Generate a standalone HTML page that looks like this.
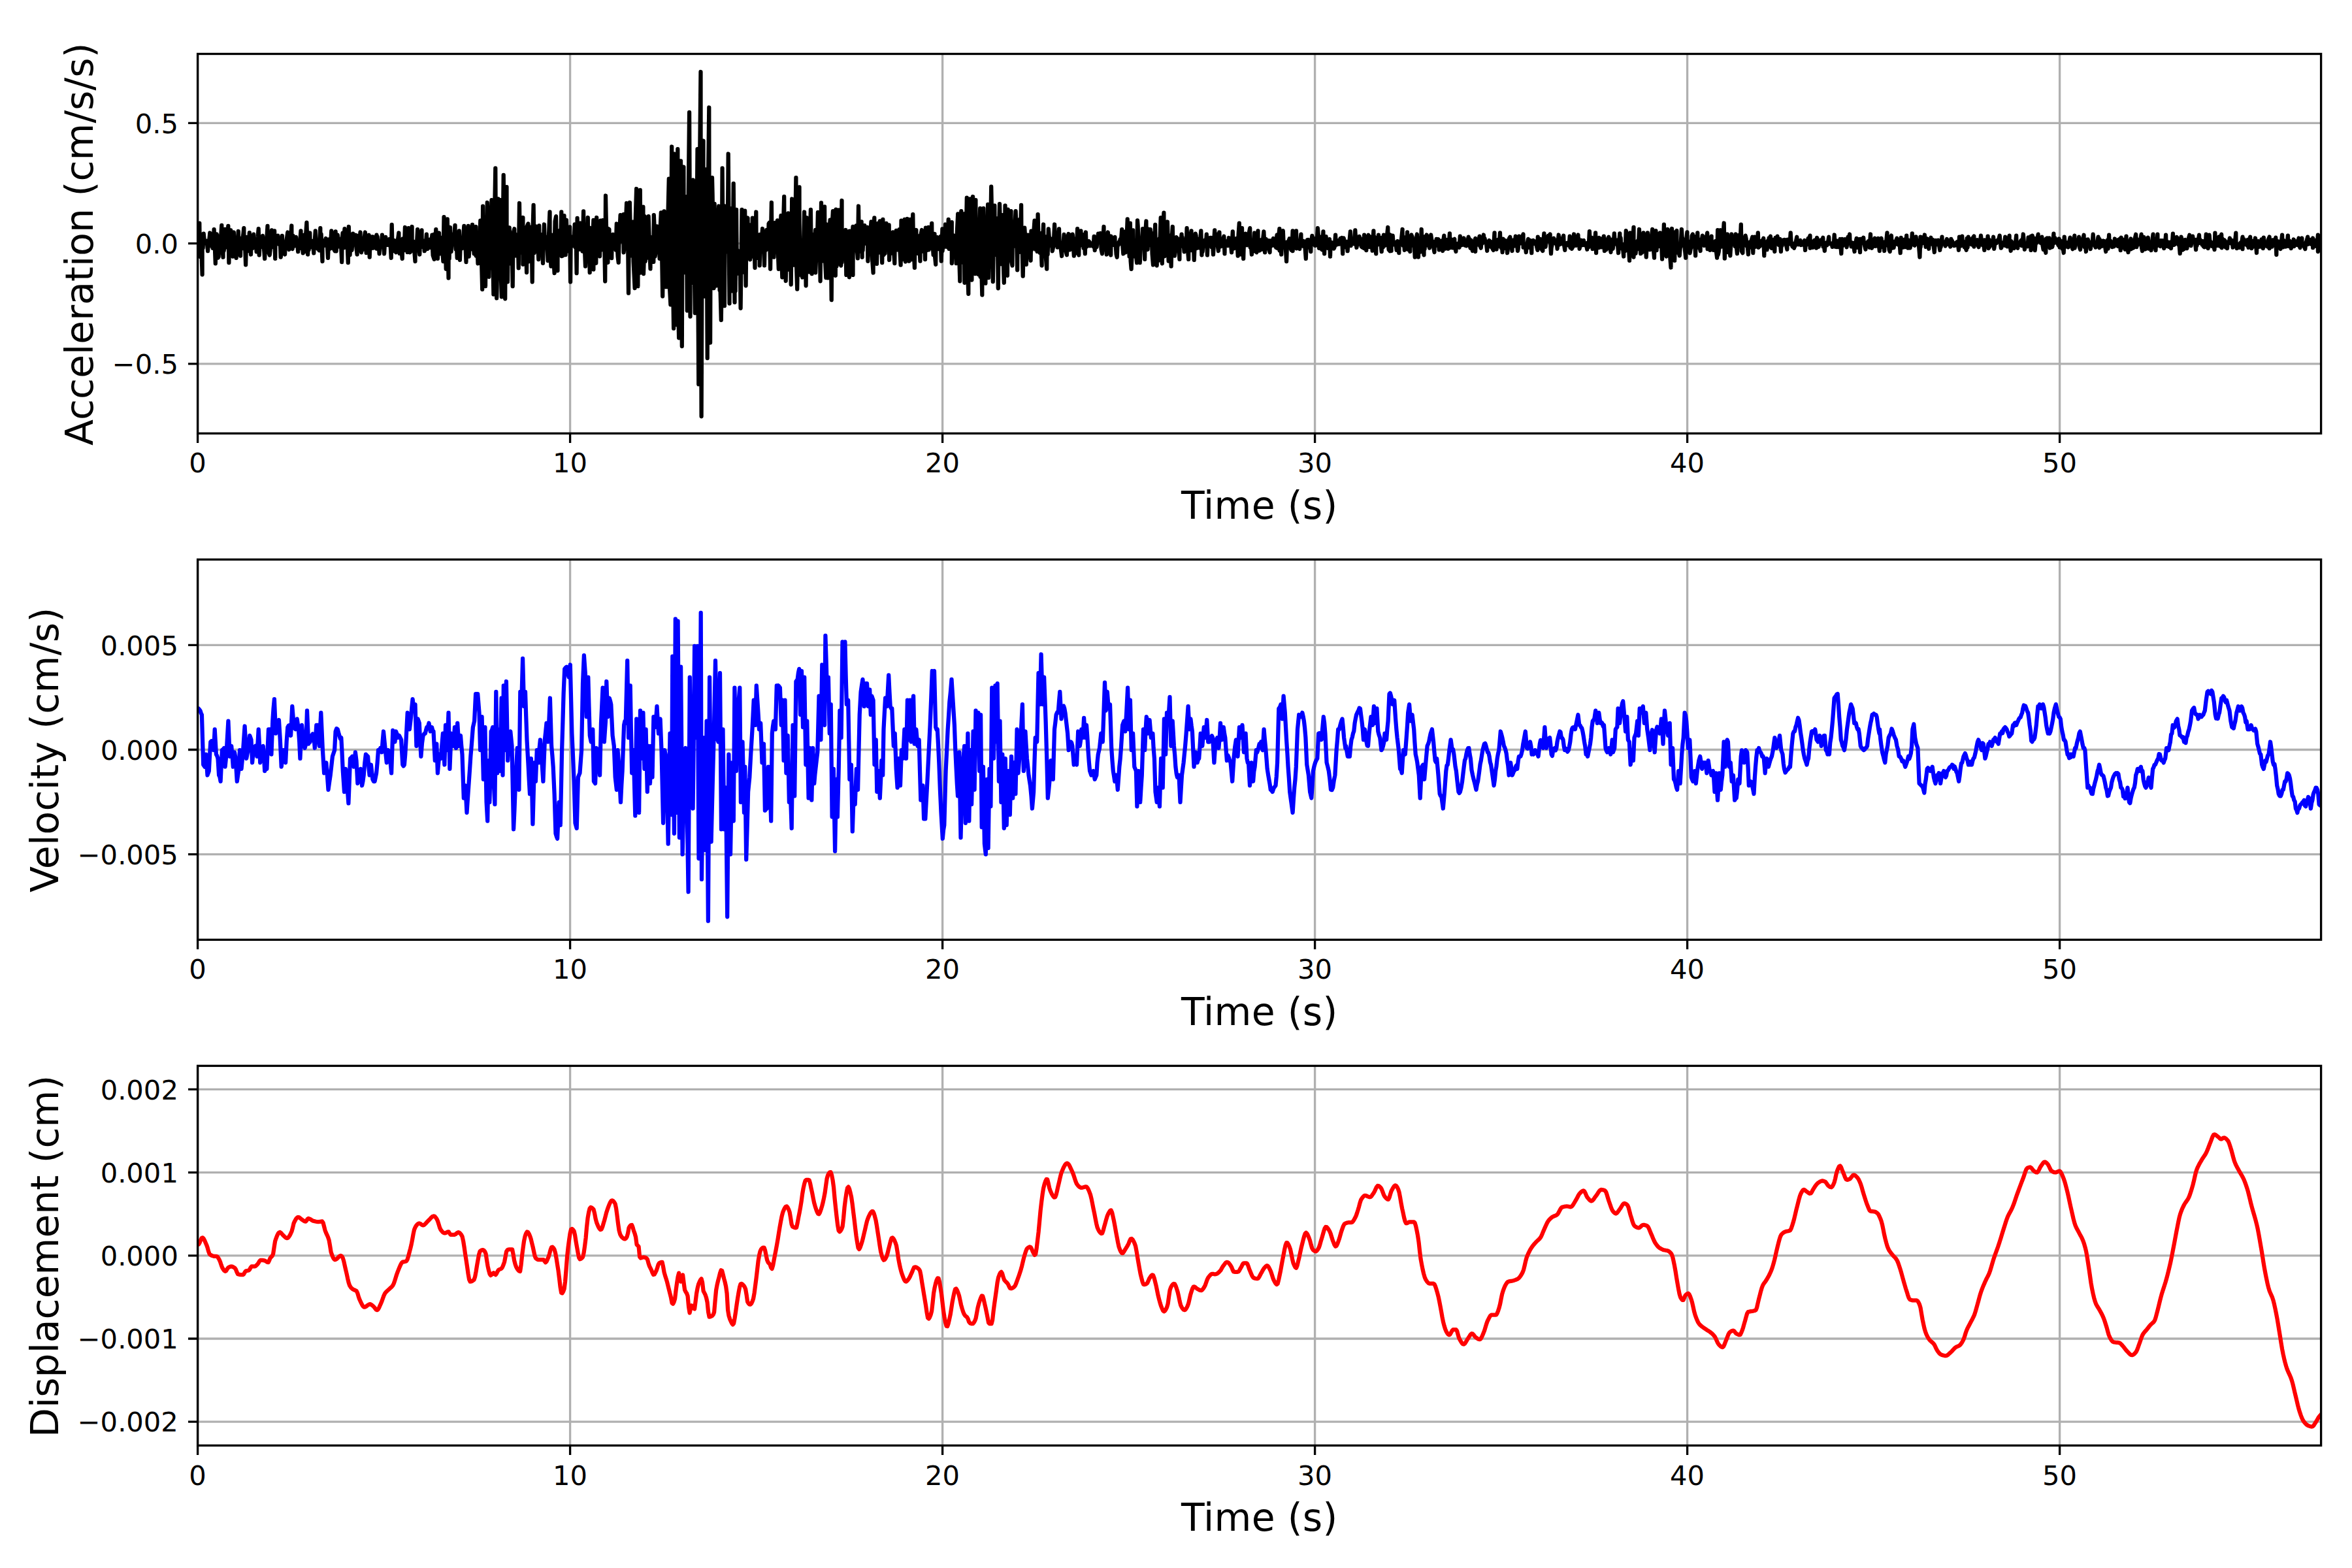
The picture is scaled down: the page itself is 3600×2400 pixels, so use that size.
<!DOCTYPE html>
<html><head><meta charset="utf-8"><title>Ground motion</title>
<style>html,body{margin:0;padding:0;background:#fff;width:3600px;height:2400px;overflow:hidden}svg{display:block}</style>
</head><body>
<svg width="3600" height="2400" viewBox="0 0 3600 2400">
<rect width="3600" height="2400" fill="#ffffff"/>
<clipPath id="c0"><rect x="302.6" y="82.5" width="3250" height="580.9"/></clipPath>
<path d="M302.6 82.5V663.4M872.6 82.5V663.4M1442.6 82.5V663.4M2012.6 82.5V663.4M2582.6 82.5V663.4M3152.6 82.5V663.4M302.6 188.4H3552.6M302.6 372.6H3552.6M302.6 556.8H3552.6" stroke="#b0b0b0" stroke-width="3.333" fill="none"/>
<path clip-path="url(#c0)" d="M302.6 366.9L303.6 359 305.3 341.6 305.6 367.2 306.6 393.2 307.6 358.7 309.6 420.3 309.6 366.2 310.6 379.5 311.7 357.6 312.6 366.5 313.6 369.1 314.6 370 315.6 372.4 316.6 368.8 318.1 384.2 318.6 377 319.6 373.6 321.3 356.5 321.6 376 322.6 368.1 323.6 372.3 324.6 375.1 325.6 379.8 326.6 375.1 327.6 351.2 328.6 372.5 329.8 403.3 330.6 375.7 331.6 358.3 332.6 361.5 333.6 394.6 334.6 393.2 335.6 374.5 336.6 377.2 337.6 370.3 339.3 344.8 339.6 370.3 341.5 393.7 341.6 350.9 342.6 384.2 343.6 376.6 344.6 350.8 345.6 365.5 346.6 365.2 347.6 378.4 349.3 345.9 350.4 402.2 350.6 391.2 351.6 370.8 353.1 352.3 353.6 371.6 354.6 383.5 356.3 392.7 356.6 378.1 357.8 355.5 358.6 373.2 359.6 380.3 360.6 373.4 361.6 394.8 362.6 371.8 363.6 372.3 364.8 354 365.6 376.8 366.6 367.7 368 391.6 368.6 365 369.6 369.7 370.6 380.4 371.6 365.3 373.3 349.1 373.6 378.1 374.6 362.9 376.1 405.4 376.6 384.4 377.6 363 378.6 372.8 379.6 384.2 380.6 375.3 381.8 356.1 382.6 372.2 384 389.5 384.6 370.7 385.6 379.2 386.6 380 388.2 358.7 388.6 371.3 389.6 375.8 390.6 370.9 391.6 367 392.6 385.3 393.6 370.6 394.6 362.6 395.7 350.2 396.7 390.5 397.6 375 398.6 378.8 399.6 367 400.6 370.8 402 360.8 402.6 366.1 403.6 375.3 405.2 395.9 405.6 385.6 406.6 373.6 407.6 376.8 409.5 345.9 409.6 365 410.6 370.8 411.6 387.4 412.7 390.5 413.6 382.9 414.6 365 415.9 352.3 416.6 366.8 417.6 378.1 418.6 372.6 420.1 353.3 421.2 395.9 421.6 368.8 422.6 368.8 423.6 365.8 425.4 360.8 425.6 370.8 426.6 373.3 427.6 374.4 428.6 365.2 429.7 393.7 430.6 387.9 431.8 360.8 432.6 373.5 433.6 372.4 434.6 382 436.1 389.5 436.6 370.4 437.6 376.8 438.6 367.2 440.3 355.5 440.6 373.4 442.4 382 442.6 368.3 443.6 364.3 444.6 369.8 446.3 345.5 446.6 379.3 447.6 381.1 448.6 360.8 449.6 373.3 450.6 376.6 451.6 371.8 453.1 362.9 453.6 373.5 454.6 368.3 456.2 385.2 456.6 372.4 457.6 372.5 458.6 377.1 460.5 353.3 460.6 369.3 461.6 380.2 462.6 367.5 463.7 387.4 464.6 359.8 465.6 384.8 466.6 385.1 467.6 366.7 469.4 340.6 469.6 347.4 471.1 389.5 471.6 381.4 472.6 382.6 474.3 356.5 474.6 368.6 475.6 378.3 476.6 376.1 477.6 375 478.6 368.9 480.3 387.4 480.6 375.5 481.6 370.6 482.8 353.3 483.6 374 484.6 379.6 485.6 375.3 486.6 381 487.6 372.5 488.6 383.3 490.3 349.1 490.6 383.5 491.6 358.3 493.5 400.1 493.6 373.1 494.6 373.1 495.6 368.3 496.6 375.9 497.6 374.3 498.8 365 499.6 369.7 500.6 370.6 502 394.8 502.6 381 503.6 366.5 504.6 377 505.6 380.5 507.3 353.3 507.6 379.4 508.6 375.4 509.6 361.2 510.6 380.6 512.6 384.2 512.6 371.6 513.6 354.4 514.6 384.4 515.6 372.6 516.8 359.7 517.6 366.3 518.6 374.4 519.6 377.6 520.6 370.6 521.6 366.3 523.2 401.2 523.6 366 524.6 356.7 525.6 370.4 527.5 350.2 527.6 379 528.6 374 529.6 373.4 530.6 371.4 531.6 372.9 532.8 402.2 533.8 347 534.6 370.7 535.6 390.1 536.6 364.4 537.6 378 538.6 382.9 540.2 357.6 540.6 367.6 541.6 362.7 542.6 369 544.5 359.7 544.6 371.5 546.6 389.5 546.6 378.7 547.6 360.8 548.6 366.8 549.6 380.1 551.5 355.5 551.6 377.8 553 386.3 553.6 372 554.6 383 555.6 371.5 556.6 375.8 557.6 364 558.9 355.5 559.6 365.7 560.6 387.1 561.6 372.3 562.6 384.1 563.6 364.8 564.7 359.7 565.7 393.7 566.6 371.4 567.6 368.8 568.6 380 569.6 362.3 570.6 362.3 571.6 379.7 572.6 370.1 573.6 377 574.6 372.8 576.4 359.7 576.6 380.6 577.6 362.3 578.6 378.6 579.6 374.4 580.6 388.4 581.6 369.6 582.6 376.5 583.6 374 584.9 359.7 585.6 375.9 586.6 373.4 588.1 388.4 588.6 379.2 590.2 362.9 590.6 375.2 591.6 373.9 592.6 374.9 593.6 372.2 594.6 375 595.6 366.1 596.6 375.6 597.6 373.9 598.7 394.8 599.7 343.8 600.6 379.3 601.6 377.6 602.6 384 603.6 368.2 604.6 381.8 606.1 386.3 606.6 378 607.6 370 608.6 369.7 610.4 356.5 610.6 375.5 611.6 387.9 612.6 369.2 613.6 370.4 614.6 385.1 615.7 395.9 616.6 365.5 617.6 379.1 618.6 383.1 619.9 348 620.6 371.7 621.6 374.2 622.6 370.8 623.6 386 625.3 349.1 625.6 357.8 627.4 386.3 627.6 377.5 628.6 385.2 630.6 347 630.6 366.8 631.6 376 632.6 369.4 633.6 376.1 635.5 400.1 635.6 373.2 636.6 370.1 637.6 379.9 639.1 351.2 639.6 366.6 640.6 376.6 642.3 389.5 642.6 379.4 643.6 372 645.5 352.3 645.6 369.4 646.6 374.2 647.6 378.3 648.6 368.7 649.7 384.2 650.6 382.5 651.6 378.7 652.9 358.7 653.6 372.4 654.6 381 655.6 372.4 656.6 373 657.6 366.6 658.6 378.8 659.6 377 661.4 359.7 661.6 370.2 662.6 390.7 664.6 396.9 664.6 358.6 665.6 378.9 667.3 351.2 667.6 379.5 668.6 364.7 669.9 395.9 670.6 372.9 672 356.5 672.6 388.5 673.6 366.5 674.6 363.6 675.6 377.7 676.6 376 678.4 400.1 679.5 332.1 679.6 365.3 680.6 386.6 681.6 365.6 682.7 411.8 683.6 369.2 684.8 335.3 686.5 425.6 686.6 384.6 687.6 395.8 689 348 689.6 375.9 690.6 385.2 691.6 358.6 692.6 370.6 693.6 362.3 694.6 370.9 696.5 344.8 696.6 369.5 697.6 381.4 698.6 365.6 699.7 394.8 700.6 355.7 701.6 375.5 702.8 353.3 703.9 398 704.6 378.4 705.6 374.2 706.6 377.6 707.6 380.1 708.6 371.1 710.3 345.9 710.6 375.9 711.6 356.1 713.5 401.2 713.6 372.6 714.6 369 715.6 362.4 716.7 345.9 717.7 392.7 718.6 375.6 719.6 357.8 720.6 379.3 721.6 381.3 723 343.8 723.6 376.7 724.6 373.9 725.6 388.3 726.6 373 728.4 347 728.6 391.6 729.6 356.1 731.5 403.3 731.6 373.6 733.4 402.8 733.6 381.3 735.3 337.7 735.6 388.9 736.6 380.6 738.2 443 739.1 315.7 739.6 378.5 740.6 400.3 741.6 396.9 743 438.2 743.6 377.5 744.6 386 745.8 310 746.6 349.2 748.3 423.8 748.6 344.8 749.6 372.2 750.6 360.1 752.5 306.2 752.6 410.3 753.6 352.9 755.4 450.6 755.6 373.7 756.6 354.2 758.3 257.4 758.6 307.6 760.2 456.4 760.6 439.5 762.5 304.3 762.6 364.3 763.6 407.4 764.6 354 765.9 306.2 766.6 415.1 767.8 454.4 768.6 390.3 769.6 365 770.7 267.9 771.6 348.7 773.2 457.3 773.6 369.8 775.5 286.1 775.6 398.1 777 431.5 777.6 385.9 778.6 353.9 779.7 348.3 780.6 372.7 781.6 403.3 782.6 357.1 783.6 364.9 784.7 438.2 785.6 356.9 787.3 350.2 787.6 378.3 788.6 358.3 789.6 391.4 790.6 362.3 791.6 381.7 792.6 359.8 793.7 410.4 795 311 795.6 352.5 796.6 386.6 797.6 373.5 798.6 371.9 800.4 333 800.4 404.7 800.6 354.6 801.6 361.7 802.6 391.5 803.6 365.4 804.6 360.7 806.1 417.1 806.6 346.8 808.4 342.5 808.6 400.6 809.6 382.1 810.6 347.4 811.6 399.6 812.6 397.8 813.6 361.2 814.7 431.5 815.6 348.9 816.6 313.8 817.6 387.1 818.6 361.7 819.6 370.4 820.6 346.5 821.6 372.6 822.6 358.6 824.3 397.1 825.2 345.4 825.6 382.6 826.6 374.7 827.6 373.7 828.6 359.2 829.6 365.6 831 402.8 831.6 382 832.9 343.5 833.6 363.7 834.6 362.2 835.6 374.2 836.6 376.4 837.6 375.5 838.6 399.1 839.6 369.5 841.5 324.4 841.6 368.5 843.4 407.6 843.6 387.5 844.6 359.6 845.6 397.1 846.6 382.6 848.6 418.1 848.6 381.5 849.6 338.5 851.1 331.1 851.6 401.2 853.5 414.3 853.6 362.5 854.6 356.2 855.6 366.2 856.6 353 857.6 388.8 859.3 324.4 859.6 392.1 861.6 391.3 861.6 362.3 863.5 330.1 863.6 389.7 864.6 377.4 865.6 390.2 866.9 336.8 867.6 356.2 868.6 358.8 869.6 384.3 870.6 357.7 872.1 347.3 873.1 431.5 873.6 370.5 874.6 375 875.6 371.6 876.6 376.1 877.6 362.2 878.6 367.4 879.7 343.5 880.6 378.4 881.6 355.6 882.6 418.1 883.6 333.9 883.6 383.3 884.6 367.6 885.6 365.1 886.6 346.4 887.6 381.6 888.6 341.5 889.6 369.4 890.6 376.1 891.6 384.7 893.1 323.4 893.6 362.1 894.6 371.7 896 407.6 896.6 391.2 897.6 391.6 898.6 381.9 899.8 333 900.6 384.1 901.6 353.9 902.7 417.1 903.6 349 904.6 357.9 905.6 366.6 906.6 379.6 908.4 336.8 908.4 412.4 908.6 371.7 909.6 358.9 910.6 342.6 912.3 402.8 913.2 333 913.6 359.7 914.6 376.4 915.6 372.1 916.6 378.6 918 392.3 919.3 337.7 919.6 383 920.6 375.4 921.6 369.2 922.6 337.1 923.6 371.5 924.6 340.8 926.2 430.5 927 299.5 927.6 329.5 928.6 371 930.4 401.8 930.6 349.8 932.4 351.1 932.6 365.4 933.6 376.6 934.6 370.2 936.2 395.1 936.6 372.4 938.1 358.8 938.6 374.5 939.6 374.4 940.6 371.2 941.6 368.1 942.6 382.5 943.8 342.5 944.6 372.7 945.6 392.6 946.7 401.8 947.6 368.7 949.6 329.1 949.6 361.9 950.6 369.7 951.6 367.3 952.6 361.3 954.4 328.2 954.6 386.4 955.6 377.9 956.6 360.6 957.6 347.6 959.1 311 959.6 361.8 960.6 323.1 962 448.7 962.6 375.2 963.9 310 964.6 344.8 965.6 339.2 966.6 375.9 967.6 391.8 968.7 339.7 969.6 400.3 971.6 441.1 971.6 368.2 972.6 340.5 974.1 289 974.6 364 976.4 438.2 976.6 367.2 977.6 384.2 978.6 355.8 979.8 290.9 980.6 417.5 981.6 366.5 982.6 371.9 984.4 316.7 985 419.1 985.6 401.3 986.6 331 987.6 400.2 988.6 393.5 989.6 395.3 990.6 352.2 991.6 388.4 992.6 331.1 993.6 361.1 995.5 411.4 995.6 362.6 996.6 368.3 997.6 393.7 998.6 382.2 1000.3 400.9 1000.8 329.1 1001.6 346.6 1002.6 392.6 1003.6 385.5 1005.4 346.4 1005.6 375.2 1006.6 358.6 1007.6 367.9 1008.6 357.6 1009.6 395.8 1010.6 350.7 1011.8 325.3 1012.6 358 1014.2 453.5 1014.6 415.6 1016.5 323.4 1016.6 332.9 1017.6 327.4 1019.4 439.1 1019.6 394.7 1020.9 439.1 1021.6 370.8 1022.6 324 1023.8 273.6 1024.6 432.5 1026.4 466.4 1026.6 449.1 1028.2 224.5 1028.6 442.9 1029.6 403.9 1031.1 502.7 1032.5 235.5 1032.6 404.9 1033.6 338.6 1034.6 357.6 1036.2 497.3 1037.3 228.2 1037.6 445.2 1039.1 517.3 1039.6 339.1 1040.6 267.3 1042 246.4 1042.6 302.4 1043.8 530 1044.6 315.8 1046.4 255.5 1046.6 371.5 1047.6 323.9 1048.6 417 1049.6 340.8 1050.7 300.9 1051.8 475.5 1052.6 376.8 1053.6 310.2 1055.1 171.8 1056.5 484.5 1056.6 344.6 1057.6 433.8 1058.6 365.9 1059.6 313.7 1060.9 275.5 1061.6 422.5 1062.6 398.1 1063.8 479.1 1064.6 412.3 1065.6 458.4 1067.5 228.2 1067.6 306 1069.3 588.2 1069.6 258.8 1070.6 297.3 1072.5 110 1072.6 346.4 1073.6 637.3 1074.6 377.4 1076.5 215.5 1076.6 357.2 1078.4 453.6 1078.6 407.1 1079.6 328.2 1081.3 259.1 1081.6 312.8 1082.7 548.2 1083.6 306.1 1085.3 164.5 1085.6 412.8 1087.1 524.5 1087.6 367.6 1088.6 382 1090 271.8 1090.6 297.3 1091.6 365.3 1092.6 441.1 1093.6 311.8 1094.6 360.6 1096.5 437.3 1096.6 325.3 1097.6 353.8 1098.6 347.2 1100.2 315.5 1100.6 371.4 1101.6 444.5 1102.6 445.4 1103.8 490 1104.6 429.7 1105.6 257.3 1106.6 378.1 1107.6 360.2 1108.9 468.2 1110 315.5 1110.6 349.1 1111.6 385.4 1112.6 333.4 1113.6 385 1114.7 235.5 1116.5 464.5 1116.6 401.2 1117.6 341.5 1119.1 319.1 1119.6 401.4 1120.6 445.4 1121.6 410.6 1122.7 280.9 1124.5 462.7 1124.6 369.3 1125.6 445.5 1127.1 320.9 1127.6 383.5 1128.6 382.8 1129.6 416.6 1130.6 418.6 1131.6 387.1 1132.6 389.8 1133.6 471.8 1135.5 320.9 1135.6 334.9 1136.6 361.8 1137.6 416.7 1138.6 395.6 1140.2 322.7 1140.6 355.1 1141.6 437.3 1142.6 337.5 1144.5 333.6 1144.6 365.7 1145.6 367.4 1146.6 344 1148.2 397.3 1148.6 372.9 1149.6 376.9 1150.6 392.7 1151.8 333.6 1152.6 380.4 1153.6 339.1 1155.5 410 1155.6 397.3 1157.3 324.5 1157.6 372.4 1158.6 394.9 1159.6 370.7 1160.6 361.1 1161.6 375.4 1162.7 359.1 1162.7 406.4 1163.6 365.1 1164.6 364.9 1165.6 367.6 1167.1 350 1167.6 354.6 1168.6 363.4 1170 406.4 1170.6 376.2 1171.6 380.6 1172.6 382.6 1173.6 351.8 1174.6 366.3 1175.6 377.3 1176.6 342.3 1177.6 340.9 1179.1 411.8 1179.6 376.8 1180.9 310 1181.6 378.8 1182.6 344 1184.5 393.6 1184.6 389.5 1186.4 340.9 1186.6 378.1 1187.6 360.3 1188.6 385.1 1190 337.3 1190.6 379.8 1191.8 411.8 1192.6 378.5 1193.6 361 1195.5 330 1195.6 370 1197.3 424.5 1197.6 363.5 1198.6 358.2 1200.2 300.9 1200.6 371.8 1201.6 344.1 1202.7 430 1203.6 390.3 1204.6 406.4 1206.4 326.4 1206.6 412.6 1207.6 410.6 1208.6 386 1209.6 346.5 1210.7 435.5 1212.2 304.5 1212.6 367.7 1213.6 390.3 1214.6 405.6 1215.6 389.6 1216.6 386.1 1218.4 271.8 1218.6 392.7 1220.2 442.7 1220.6 421.8 1221.6 388.4 1223.5 286.4 1223.6 341 1224.6 420.7 1225.6 379.3 1226.6 417 1228.2 424.5 1228.6 368.2 1229.6 390 1231.1 324.5 1231.6 420 1232.6 370.3 1233.6 437.3 1234.6 333.1 1235.6 370.1 1236.6 346 1237.6 374.2 1238.6 416.4 1239.6 361.9 1240.9 320.9 1241.6 381.2 1242.7 419.1 1243.6 399.1 1244.6 359.1 1245.6 367.9 1246.6 380.6 1248.2 351.8 1248.2 417.3 1249.4 388.6 1249.6 363.7 1250.6 384.1 1251.9 324.8 1252.6 360.8 1253.6 391.7 1254.6 360.7 1255.6 430.3 1257 310.4 1257.6 399.9 1258.6 336.2 1259.6 366.5 1260.6 338.7 1262.1 316.3 1262.6 390.9 1264.3 425.2 1265.5 343.5 1265.6 381.3 1266.6 356.3 1267.6 425.4 1268.6 395.7 1269.6 349 1270.6 336.7 1271.6 360.8 1272.7 459.2 1273.6 346.7 1274.9 323.1 1275.6 380.3 1276.6 359.2 1277.6 389.1 1278.8 421.8 1279.5 320.6 1279.6 401.3 1280.6 407.4 1281.6 383.7 1282.6 383.4 1283.9 321.4 1284.6 384.8 1285.6 402.1 1287.3 406.5 1288.5 307 1288.6 401.6 1289.6 383.2 1290.6 367.2 1291.6 382.8 1292.6 386.9 1294.4 352 1295.3 420.9 1295.6 405.9 1296.6 356.7 1297.6 388.7 1298.6 357.1 1299.9 424.3 1300.4 353.7 1300.6 357.3 1301.6 368.5 1302.6 381.2 1303.6 370.6 1305.5 346.9 1305.5 420.9 1305.6 390.5 1306.6 368.5 1307.6 372.6 1308.6 364.3 1309.6 357.7 1310.6 345.3 1311.6 378.7 1312.8 395.4 1314 315.5 1314.6 355.9 1315.6 384.4 1316.6 384.9 1318.6 339.3 1319.6 393.7 1319.6 379.5 1320.6 383.4 1321.6 361.9 1323.3 345.2 1323.6 362.7 1324.6 359 1325.6 372.9 1327.6 347.8 1328.4 399.7 1328.6 369.5 1329.6 379.6 1330.6 387.3 1331.6 366.5 1333.5 339.3 1333.6 368.6 1334.6 390.1 1336.6 417.5 1336.6 362.5 1338.3 333.3 1338.6 401.4 1339.6 375.4 1340.6 381.9 1342 403.9 1342.6 379.7 1343.7 341.8 1344.6 386.8 1345.6 359.9 1346.8 338.4 1347.6 364.9 1348.6 356.4 1350.2 402.2 1351.4 335.9 1351.6 370.8 1352.6 390 1353.6 377.6 1354.6 387.8 1356.5 341.8 1356.6 367.2 1357.6 358.3 1358.6 368.9 1359.6 379.7 1360.7 344.4 1361.1 398 1361.6 376.8 1362.6 370.6 1363.6 387.9 1364.6 371.2 1365.6 370.8 1366.7 355.4 1367.6 378.1 1369.3 403.1 1369.6 377.1 1370.6 371 1371.8 352.9 1372.6 381.9 1373.6 382.3 1374.6 363.5 1375.6 370.1 1376.6 351.1 1377.6 386.2 1378.6 405.6 1379.5 337.6 1379.6 398.1 1380.6 359.7 1381.6 359.5 1382.6 383.2 1384.6 335.9 1384.6 393.2 1385.9 400.5 1386.6 373.6 1387.6 394.7 1388.8 335 1389.6 377.6 1391.4 399.7 1391.6 394.5 1393.1 335.9 1393.6 376.4 1394.6 397.4 1395.6 376.7 1397.3 328.2 1397.6 348.4 1398.6 377.3 1399.9 409.9 1400.6 362.5 1402.4 352 1402.6 380.3 1403.6 382.5 1404.6 387.9 1405.6 363.4 1406.7 361.4 1408.4 399.7 1408.6 373.5 1409.6 358.5 1410.9 352 1411.6 384.6 1412.6 375.2 1413.6 372.2 1414.6 358.9 1416 397.1 1416.9 348.6 1417.6 355.8 1418.6 378.9 1419.6 382.8 1421.1 347.8 1421.6 382.3 1422.6 362.7 1423.7 380.1 1424.6 373.7 1426.2 341.8 1426.6 379.2 1427.6 373.5 1428.6 390 1430.5 358 1430.6 388.3 1432.2 404.8 1432.6 364.4 1433.6 369.6 1434.7 363.1 1435.6 371.8 1436.6 381.1 1438.1 363.9 1438.6 368.3 1439.6 361.9 1440.7 399.7 1442.4 350.3 1442.6 384 1443.6 372.9 1444.6 376.5 1445.6 370.3 1446.6 377.6 1447.1 343.5 1447.6 372.9 1448.6 374.2 1449.6 377.9 1450.6 373.2 1451.7 335.9 1452.6 381 1452.6 378.8 1453.6 374.7 1454.6 373.9 1455.6 365.3 1456.8 340.1 1456.8 403.1 1457.6 380.4 1458.6 376.7 1460.2 360.5 1460.6 363.1 1461.6 375.5 1462.6 376.3 1463.6 403.1 1464.6 360.4 1466.2 327.4 1466.6 368.5 1467.6 371.8 1469.3 430.3 1469.6 368.9 1471.3 323.1 1471.6 401.8 1472.6 363.4 1473.6 344.1 1475.5 327.4 1476.4 432.8 1476.6 360.1 1477.6 413.3 1478.6 366.2 1479.8 302.7 1480.6 401 1482.3 449.8 1482.6 380.9 1483.6 370.1 1484.9 304.4 1485.6 407 1487.4 428.6 1487.6 338.4 1489.1 301 1489.6 375.5 1490.6 353.7 1492.6 419.2 1493.4 306.1 1493.6 358.5 1494.6 342.2 1495.6 346.1 1496.6 406.8 1497.7 420.1 1498.6 372.5 1500.2 318.9 1500.6 423.8 1501.6 385.1 1503.3 451.5 1503.6 353.9 1505.3 318.9 1505.6 349.6 1506.6 340.4 1508.4 433.7 1508.6 382.7 1509.6 365.6 1510.6 371.1 1512.1 312.9 1513 425.2 1513.6 341.3 1514.6 331.1 1515.6 383.5 1517.2 285.7 1517.6 304.9 1518.6 373.6 1519.8 431.1 1520.6 383.3 1522.3 314.6 1522.6 358.3 1523.6 354 1524.6 359.2 1525.6 390.4 1526.6 334.2 1527.8 441.3 1528.6 371.9 1530 312.1 1530.6 333.1 1531.6 338.1 1532.6 404.2 1533.6 396.1 1535.1 329.1 1535.6 395.6 1536.8 432.8 1538.5 314.6 1538.6 367.2 1539.6 371.9 1540.6 367 1541.9 421.8 1542.7 320.6 1543.6 389.6 1544.6 364.5 1545.6 345.8 1547.5 323.1 1547.6 397.4 1549.5 406.5 1549.6 376.3 1550.6 368.5 1551.6 375.2 1552.6 376.5 1553.6 340.6 1554.6 323.1 1555.6 349.8 1557.2 413.3 1557.6 358.4 1558.9 336.7 1559.6 386.2 1560.6 336.5 1561.6 365.6 1563.1 313.8 1563.6 385.5 1564.6 379.8 1565.7 422.6 1566.6 381.3 1568.2 348.6 1568.6 354.1 1569.6 370.3 1570.8 404.8 1571.6 372.1 1573.3 359.7 1573.6 392.1 1574.6 366 1575.6 382.4 1577.6 398.8 1578.4 353.7 1578.6 383 1579.6 367 1580.6 380.9 1581.6 364.6 1583.5 337.6 1583.6 361.4 1585.2 381.8 1585.6 380.7 1586.6 374.3 1587.6 384.9 1588.6 328.2 1589.6 373.5 1590.6 362.5 1591.6 386.8 1592.9 358.8 1594.6 406.5 1594.6 356.7 1595.6 376.6 1597.1 343.5 1597.6 388.8 1598.6 374.5 1599.6 362.1 1600.6 391.3 1602.2 411.6 1602.6 372.8 1603.6 389.5 1604.8 350.3 1605.6 360.6 1606.6 371.4 1607.6 375.9 1608.6 366.3 1609.9 365.6 1610.7 384.4 1611.6 380.3 1612.6 375.5 1614.1 343.5 1614.6 356.3 1615.6 373.9 1616.6 361 1617.6 371.1 1618.6 378.7 1619.6 374.8 1621 350.3 1621.6 372.1 1622.6 376.1 1623.6 379.3 1625.2 392 1625.6 378.7 1626.6 383.7 1627.6 372 1628.6 358.8 1629.6 370.1 1630.6 367.7 1631.6 384.9 1632.9 390.3 1633.6 367.3 1635.4 358 1636.4 358.7 1636.6 372.9 1637.6 382.4 1638.6 372.1 1639.6 367.2 1640.6 369.2 1641.7 358.7 1642.6 367.6 1643.8 391.6 1644.6 365.6 1645.6 365.8 1646.6 373.1 1647.6 387.4 1649.1 350.2 1649.6 379.2 1651.3 390.5 1651.6 369.9 1652.6 376.5 1654.4 353.3 1654.6 367.5 1655.6 366.7 1656.6 372.4 1657.6 359 1658.6 379.8 1659.6 366.1 1660.8 388.4 1661.9 355.5 1662.6 375.8 1663.6 377.3 1664.6 369.6 1665.6 375.5 1666.6 369.2 1668.3 371.4 1668.6 376.3 1669.6 372.5 1670.6 375.7 1671.6 373.6 1672.6 374.2 1673.6 377.5 1674.6 361.8 1675.7 383.1 1676.6 369.5 1677.6 379 1678.6 377.9 1679.6 367.8 1681 357.6 1681.6 366.8 1682.6 368.4 1683.6 370.4 1684.6 357 1685.6 381.9 1687 388.4 1687.6 378.9 1689.5 347 1689.6 381.5 1690.6 365.1 1691.6 370.4 1692.6 363.8 1693.8 389.5 1694.6 365.4 1695.9 355.5 1696.6 374.3 1697.6 378.5 1698.6 379.6 1700.2 390.5 1700.6 361.5 1701.6 366.3 1702.6 368.8 1703.6 374.9 1704.6 374 1706.5 362.9 1706.6 374.9 1707.6 374.8 1708.6 389.2 1709.7 393.7 1710.6 373.2 1711.6 375.5 1712.6 370.5 1713.6 371.1 1714.6 366.1 1715.6 372.8 1717.2 351.2 1717.6 366.2 1719.3 388.4 1719.6 385.7 1720.6 383.4 1721.6 354.7 1722.6 386.5 1723.6 376.1 1724.6 363.7 1725.7 335.3 1726.6 385 1727.6 362.8 1728.6 392.7 1729.9 341.6 1730.6 399.5 1731.6 411.8 1732.6 390.2 1734.2 352.3 1734.6 392.6 1735.6 373 1736.6 376.7 1737.6 368.6 1738.6 386.1 1740.1 402.2 1741 337.4 1741.6 345.2 1742.6 374 1743.6 373.4 1744.8 402.2 1745.6 367.3 1746.6 375.6 1747.6 379.7 1749 350.2 1749.6 371.8 1750.6 362.8 1752.2 396.9 1752.6 365.1 1754.4 338.5 1754.6 361 1755.6 379.7 1756.6 382 1757.6 350.5 1758.6 375.5 1759.6 367.4 1760.7 351.2 1761.6 364.5 1762.6 356.5 1763.6 388.7 1765 405.4 1765.6 378.7 1766.6 378.2 1768.2 343.8 1768.6 376.7 1769.6 399.5 1770.7 406.5 1771.6 374.1 1772.6 399.1 1773.6 368.5 1774.6 364.9 1775.6 364 1776.7 333.1 1777.6 391 1778.8 403.3 1779.6 357.7 1781.4 325.7 1781.6 386.9 1782.6 392.3 1783.6 387.9 1784.6 385.4 1785.6 370.2 1786.9 339.5 1787.6 361.3 1788.6 399.6 1789.6 380 1790.6 360.6 1791.6 370 1792.6 407.6 1793.6 366.4 1794.8 347 1795.6 388.3 1796.6 363.7 1797.9 391.6 1798.6 384.6 1799.6 371.2 1800.6 363.1 1801.6 364.4 1803.3 366.1 1803.6 369.4 1805.4 396.9 1805.6 366.3 1806.6 377.1 1808.6 358.7 1808.6 376.5 1809.6 362.9 1810.6 372.6 1811.6 373.7 1812.6 385.3 1813.6 371.2 1814.6 366.4 1815.6 380.4 1816.6 349.1 1817.6 377.6 1819.2 396.9 1819.6 357.3 1820.6 370.9 1821.6 375.3 1823.5 353.3 1823.6 383.1 1824.6 378.3 1825.6 374.9 1826.6 360.4 1827.7 398 1828.6 377.8 1829.8 357.6 1830.6 360.3 1831.6 380.2 1832.6 375.5 1833.6 365.8 1834.6 374.5 1835.6 379.3 1836.6 373.7 1838.3 353.3 1839.4 390.5 1839.6 369.2 1840.6 385.5 1841.6 374.4 1842.6 373.4 1843.6 375.5 1844.6 367.5 1845.6 376.5 1846.8 358.7 1847.9 390.5 1848.6 374.9 1849.6 372.4 1850.6 368.3 1852.2 364 1852.6 373.8 1853.6 363.8 1854.6 378.3 1855.6 364.1 1857 389.5 1857.6 378.8 1859.2 352.3 1859.6 373.8 1860.6 370 1861.6 358.3 1862.6 366.6 1863.6 375.2 1864.9 384.2 1866.4 355.5 1866.6 364.6 1867.6 373.9 1868.6 377.3 1869.6 370 1870.6 372.1 1871.6 367.2 1873.4 361.8 1874.5 388.4 1874.6 375.6 1875.6 370.5 1876.6 369.2 1877.6 371.2 1878.6 372.7 1879.6 376.1 1880.9 364 1881.6 368 1882.6 371.9 1883.6 369.8 1885.1 386.3 1885.6 374.8 1886.8 354.4 1887.6 372.5 1888.6 380.5 1889.6 371.9 1890.6 366.2 1891.6 371.8 1892.6 364.8 1893.6 369.6 1894.7 391.6 1895.6 358.6 1896.8 341.6 1897.6 374.6 1898.6 389.4 1899.6 368.3 1901 349.1 1901.6 374.2 1903.2 395.9 1903.6 381.3 1904.6 367.1 1906.4 357.6 1906.6 370.6 1907.6 369.1 1908.6 375.3 1909.6 371 1910.6 370.5 1911.6 357.5 1913.2 349.1 1913.6 378.5 1914.6 372.7 1915.9 389.5 1916.6 369.8 1917.6 385.3 1918.6 383.9 1920.2 356.5 1920.6 359.5 1921.6 384.2 1923.4 386.3 1923.6 368.8 1925.5 353.3 1925.6 378.5 1926.6 377.9 1927.6 383.6 1928.6 378.8 1929.6 367.3 1930.6 382 1931.6 368.6 1932.6 370.5 1934.4 354.4 1934.6 359.2 1936.1 386.3 1936.6 375.4 1937.6 365.8 1938.6 368.2 1939.6 373.9 1941.4 368.2 1941.6 378.9 1943.6 386.3 1943.6 368.4 1944.6 377.9 1945.6 374.4 1946.6 369.3 1947.6 368.5 1948.9 365 1949.6 375.7 1950.6 372.7 1951.6 373.6 1953.1 378.9 1953.6 367.2 1954.6 359.6 1955.6 380.2 1956.6 366.8 1958.4 350.2 1958.6 383.4 1959.6 372.5 1961.2 389.5 1961.6 381.4 1962.6 356.6 1963.8 353.3 1964.6 371.3 1965.6 378.4 1966.6 376.4 1967.6 376.8 1969.1 400.1 1970.1 370.3 1970.6 371.5 1971.6 373.5 1972.6 368.6 1973.6 365.3 1974.6 368.3 1975.6 380.3 1976.6 382.9 1977.6 377.4 1978.6 353.3 1978.6 384.2 1979.6 365.8 1980.6 374.7 1981.6 376.8 1982.6 371.7 1984 353.3 1984.6 380.4 1985.6 379.2 1986.6 369.8 1987.6 374.2 1989.3 381 1989.6 374.9 1991.4 358.7 1991.6 370.9 1992.6 375.8 1993.6 376.5 1994.6 375.3 1995.6 369 1996.6 372.2 1997.6 380.1 1998.8 395.9 1999.6 374.4 2001 367.2 2001.6 369.2 2002.6 367.1 2003.6 378.4 2004.6 370.9 2006.3 385.2 2006.6 373.8 2008.4 360.8 2008.6 368.5 2009.6 370.3 2010.6 364.7 2011.6 369.7 2012.6 375.8 2013.6 375.8 2014.6 370.1 2015.6 370.1 2016.9 349.1 2017.6 357 2019 379.9 2019.6 362.1 2020.6 379.8 2021.6 370.3 2022.6 381.3 2023.6 382.3 2025.4 354.4 2025.6 367.6 2027.1 388.4 2027.6 368.9 2028.6 379.3 2029.6 362.2 2030.6 378.6 2031.6 379.6 2032.6 368.8 2033.6 371.3 2035 366.1 2036 392.7 2036.6 373.5 2037.6 373 2038.6 371.4 2039.6 373.3 2040.6 373.4 2041.6 380.6 2042.6 378.3 2044.1 359.7 2044.6 370.4 2045.6 374.8 2046.7 373.5 2047.6 371 2048.6 368.6 2049.6 373.8 2050.6 371.5 2051.6 364.8 2052.6 369.6 2054.1 364 2055.2 388.4 2055.6 364.8 2056.6 364.4 2057.6 368.5 2058.6 373.2 2059.6 377.2 2060.6 378.7 2061.6 369.9 2062.6 384.2 2063.6 370 2064.6 373.6 2065.6 367.7 2066.9 354.4 2067.6 376.2 2068.6 366.1 2069.6 372.4 2070.6 372.8 2071.6 372.6 2072.6 373.2 2074.3 352.3 2074.6 358.6 2076.4 378.9 2076.6 377.6 2077.6 371.8 2078.6 367.2 2079.6 369.7 2080.7 361.8 2081.6 373.8 2082.6 365.5 2083.6 377.1 2084.6 378.2 2085.6 370.1 2086.6 379.2 2088.1 359.7 2088.6 380.4 2089.6 368.4 2091.3 383.1 2091.6 368.8 2092.6 368.9 2094.5 359.7 2094.6 375.1 2095.6 371.6 2096.6 378.1 2097.6 362.3 2098.6 367.7 2099.6 367.8 2100.6 383.7 2102.4 353.3 2102.6 366.9 2103.6 362.2 2104.6 364.3 2106.2 388.4 2106.6 367.4 2107.6 372.6 2108.6 374.7 2110 359.7 2110.6 369.2 2111.6 370.5 2112.6 371.3 2113.6 374.3 2114.7 385.2 2115.6 363.6 2116.6 378.8 2117.9 359.7 2118.6 372.7 2119.6 376 2120.6 366.1 2121.6 363.1 2122.6 363.8 2124.3 348 2124.6 366.9 2125.6 382 2127.4 384.2 2127.6 359.3 2129.6 384 2129.6 369.7 2130.6 373.2 2131.7 360.6 2132.6 372.5 2133.6 374.2 2134.6 370.7 2135.6 371.3 2136.6 374.1 2137.6 382.8 2139.1 369.1 2139.6 372.7 2141.3 387.2 2141.6 370.2 2142.6 369.7 2143.6 373.5 2144.6 369.8 2146.6 351 2146.6 365.4 2147.6 375.8 2148.6 363 2149.8 382.9 2150.6 381 2151.6 380.4 2152.6 378.1 2154 355.3 2154.6 381.8 2155.6 378.5 2156.6 365.4 2158.3 385 2158.6 365.5 2160.4 359.5 2160.6 372 2161.6 362 2162.6 371.1 2163.6 375.9 2164.6 370.9 2165.7 393.5 2166.6 373.6 2167.6 367.2 2168.9 358.5 2169.6 383.9 2171 393.5 2171.6 364.7 2172.6 376.3 2173.6 365.5 2174.6 385.5 2175.7 351 2176.6 376.1 2177.6 372 2179.5 390.3 2179.6 366 2180.6 381 2181.6 361.9 2182.6 369.7 2183.8 359.5 2184.6 375.3 2185.6 366.7 2186.6 372.1 2188 379.7 2188.6 367.6 2190.2 359.5 2190.6 362.4 2191.6 369 2192.6 375.1 2193.6 374.6 2195.5 386.1 2195.6 369.9 2196.6 371.3 2197.6 376.2 2198.7 365.9 2199.6 375.4 2200.6 369.8 2201.6 366.2 2202.6 382.4 2203.6 369.4 2204.6 373.5 2205.6 369.1 2206.6 368.6 2208.2 384 2208.6 372.4 2210.3 360.6 2210.6 377.4 2211.6 379.2 2212.6 380.4 2213.6 366.8 2214.6 373.6 2215.6 375.2 2216.7 380.8 2217.6 374 2218.9 357.4 2219.6 379.2 2220.6 371.1 2221.6 366.5 2222.6 367.5 2223.6 379.3 2224.6 367 2226.3 365.9 2226.6 375.6 2228.4 385 2228.6 380.7 2229.6 377.8 2230.6 376.6 2231.6 372.6 2232.6 376.8 2233.6 378.7 2234.8 361.6 2235.6 373.6 2236.6 365.5 2237.6 375.1 2238.6 371 2239.6 372.3 2240.6 364.5 2242.2 375.5 2242.6 375.1 2243.6 369.4 2244.6 376.3 2245.6 374.5 2247.6 362.7 2247.6 372.9 2248.6 364.9 2249.6 375.4 2250.6 379.8 2251.6 367.5 2252.6 376 2253.9 384 2254.6 373.6 2255.6 372.7 2256.6 372.2 2258.2 364.8 2258.2 385 2258.6 373.3 2259.6 371.5 2260.6 371 2261.6 369.1 2262.6 374.4 2264.6 361.6 2264.6 375.6 2265.6 376.9 2266.7 379.7 2267.6 370.2 2268.6 372.8 2269.6 370.2 2270.9 359.5 2271.6 370.1 2272.6 365.1 2273.6 371.7 2274.6 369.4 2276.2 384 2276.6 377.3 2277.6 376.6 2279.4 368 2279.6 373.6 2280.6 377 2281.6 369.9 2282.6 378.1 2283.6 372.3 2284.6 381 2285.8 382.9 2287.5 356.3 2287.6 378.9 2288.6 374.5 2289.6 374.1 2290.6 381.7 2291.6 372 2292.6 366.8 2293.6 368.7 2294.6 376.6 2296 356.3 2296.6 376.1 2297.6 379.3 2298.6 369.2 2299.6 386.1 2300.6 365.6 2301.6 375 2302.6 379.9 2303.9 368 2304.6 371.8 2305.6 369.6 2307.1 387.2 2307.6 384.1 2308.6 372 2309.6 365.7 2311.3 362.7 2311.6 368.7 2312.6 370 2314.5 384 2314.6 370.8 2315.6 367.7 2316.6 376.9 2317.6 376.5 2318.6 370.7 2319.8 361.6 2320.6 375.8 2321.6 371.4 2323 384 2323.6 381.6 2325.1 361.6 2325.6 368.9 2326.6 368.4 2327.6 372.4 2328.6 371.7 2329.6 363.9 2331.5 358.5 2331.6 378.7 2332.6 377.6 2333.6 378.4 2334.6 374.8 2335.8 386.1 2336.6 377.4 2337.6 372.4 2339 365.9 2339.6 375.4 2340.6 378.8 2341.6 379.2 2342.6 368 2344.3 387.2 2344.6 372.9 2345.6 373.5 2347 368 2347.6 372.5 2348.6 372.9 2349.6 369.6 2350.6 370.4 2351.6 375 2353.4 382.9 2353.8 362.7 2354.6 376.2 2355.6 377.5 2356.6 378.4 2357.6 365.9 2358.6 377.1 2359.6 381.5 2361.3 384 2361.6 377.1 2363.4 357.4 2363.6 377.1 2364.6 370.7 2365.6 377.8 2366.6 369.5 2367.6 370.3 2368.6 365 2369.6 361 2370.6 361.1 2372.6 358.5 2372.6 364.3 2374 388.2 2374.6 379.2 2375.6 374.7 2376.6 371.4 2378.3 364.8 2378.6 366.2 2379.6 369.8 2380.6 367.6 2381.6 373.3 2382.6 370.1 2383.6 380.8 2384.6 369.5 2385.7 359.5 2386.6 374.7 2387.6 369.1 2388.6 367.7 2389.6 373.3 2390.6 367.9 2391.6 365 2393.2 360.6 2393.6 372.3 2395.3 382.9 2395.6 372.6 2396.6 374 2397.6 375.4 2398.6 371.9 2399.6 374.4 2400.6 373.9 2401.6 375.9 2402.7 361.6 2403.6 379.1 2404.6 376.6 2405.9 380.8 2406.6 371.1 2407.6 378 2409.1 358.5 2409.6 375.6 2410.6 365 2411.6 367.4 2412.6 375.8 2413.6 369.9 2415.5 359.5 2415.6 375.5 2416.6 365.7 2417.6 380.8 2418.6 374.8 2419.6 372.3 2420.6 367.8 2421.6 375.3 2422.6 368.6 2424 368 2424.6 375.1 2425.6 371.8 2426.6 373.7 2427.6 373 2429.3 381.8 2429.6 371.8 2430.6 373 2431.6 378.3 2432.9 354.2 2433.6 367.3 2434.6 368.2 2435.6 364.6 2436.6 364 2437.6 381 2438.6 364.5 2439.6 364.4 2440.6 376 2442.1 356.3 2443.1 387.2 2443.6 366.4 2444.6 364.3 2445.6 375.5 2447.4 363.8 2447.6 379.1 2448.6 374.3 2449.6 365 2450.6 371.5 2451.6 378.3 2452.6 373.8 2453.6 377.3 2454.8 361.6 2455.9 384 2456.6 374.5 2457.6 372.2 2458.6 382.2 2459.6 370.9 2460.6 365.9 2462.3 362.7 2462.6 373.6 2463.6 374.5 2465.5 386.1 2465.6 366.7 2466.6 379.6 2467.6 379.6 2468.6 380.7 2469.6 373.5 2470.8 357.4 2471.6 370.2 2472.6 373.2 2473.6 369.2 2474.6 367.4 2475.6 369.5 2477.1 387.2 2477.6 377.7 2479.3 357.4 2479.6 374.4 2480.6 364 2481.6 380 2482.6 374.5 2483.6 375.7 2485.2 392.5 2485.6 374 2486.6 381.5 2487.6 384.1 2488.8 353.1 2489.6 357.3 2490.6 364.2 2491.6 379 2492.6 373.1 2494.1 398.9 2495.2 356.3 2495.6 366.6 2496.6 375.7 2497.6 367 2498.6 378.3 2500.5 347.8 2500.5 393.5 2500.6 376 2501.6 373.4 2502.6 376.8 2503.6 388.1 2504.6 372.4 2505.6 370.3 2506.6 368.6 2507.6 380.8 2509 351 2509.6 369.9 2511.2 388.2 2511.6 371 2512.6 385.6 2513.6 386.3 2515.4 356.3 2515.6 369.1 2516.6 379.7 2517.6 365 2518.6 359.6 2519.7 393.5 2520.6 377.2 2521.8 356.3 2522.6 378.1 2523.6 372.7 2524.6 367 2525.6 382.2 2526.6 361.8 2527.6 363.8 2529.2 351 2529.6 366.6 2530.6 377.5 2532 394.6 2532.6 364.5 2534.5 353.1 2534.6 365.1 2535.6 383.1 2536.6 357.9 2537.6 375.2 2538.6 369.5 2539.6 377 2540.9 356.3 2541.6 369.3 2542.6 361.9 2544.1 396.7 2544.6 380.7 2545.6 389.8 2546.9 343.6 2547.6 377.3 2548.6 385.7 2550.5 392.5 2550.6 379.7 2551.6 373.8 2552.6 351 2553.6 373.3 2554.6 358.6 2555.6 384.2 2557.5 409.5 2557.6 368.2 2559 350 2559.6 378.5 2560.6 357.4 2561.6 355.4 2563.2 398.9 2563.6 369.6 2564.6 356.7 2566.4 353.1 2566.6 377.3 2567.6 386.6 2568.6 383.5 2569.6 385.9 2570.7 391.4 2571.6 380.6 2572.6 374.7 2573.9 351 2574.6 362.6 2575.6 366.5 2576.6 368.6 2577.6 376.2 2578.6 378.8 2580.2 394.6 2580.6 372.3 2582.4 355.3 2582.6 371.5 2583.6 370.5 2584.6 369.7 2585.6 373.5 2586.6 387.3 2587.6 381 2588.6 378.7 2589.6 360.9 2590.9 358.5 2591.6 375.6 2592.6 367.8 2593.6 362.1 2595.1 391.4 2595.6 370.2 2596.6 375.3 2598.3 356.3 2598.6 374.5 2599.6 379 2600.6 370.8 2602.6 384 2602.6 366.6 2603.6 369.7 2604.6 368.7 2605.8 360.6 2606.6 369 2607.6 362.5 2608.6 375.9 2609.6 371.8 2610.6 368.8 2611.6 365.8 2613.2 356.3 2613.6 381.1 2614.6 375.4 2615.6 373.7 2617.4 382.9 2617.6 377.6 2619.6 361.6 2619.6 368.4 2620.6 371.4 2621.6 374.9 2622.6 382.9 2623.6 381.5 2624.6 379.7 2625.6 369.1 2626.6 382.4 2628.1 394.6 2629.1 352.1 2629.6 390.3 2630.6 386.1 2631.6 378.3 2632.6 356.2 2633.6 352.2 2634.6 377.6 2635.6 362.6 2636.6 357.4 2637.6 358.4 2638.7 341.5 2639.8 395.7 2640.6 373.8 2641.6 384.6 2642.6 376.7 2644 358.5 2644.6 386.2 2645.6 370.9 2646.6 367.1 2648.3 391.4 2648.6 385.7 2650.4 358.5 2650.6 373 2651.6 370.6 2652.6 364.3 2653.6 363.5 2654.6 367.4 2655.6 377 2656.8 358.5 2657.6 375.1 2658.9 388.2 2659.6 363.8 2660.6 377.3 2661.6 372.9 2662.6 359.5 2663.6 371.5 2664.8 343.6 2665.6 384.4 2667.4 387.2 2667.6 374.9 2668.6 368 2669.6 373.9 2670.6 365.3 2671.6 360.6 2672.6 365.1 2673.6 376.4 2674.6 375.5 2675.9 389.3 2676.6 373.2 2677.6 379.4 2678.6 370.5 2679.6 373.6 2680.6 368.4 2682.3 362.7 2683.3 387.2 2683.6 375.8 2684.6 377.5 2685.6 362.7 2686.6 377.9 2687.6 376.2 2688.6 377.3 2689.6 374.6 2690.8 356.3 2691.6 378.8 2692.6 372.9 2693.6 377.1 2694.6 375.2 2695.6 370.4 2696.6 368.4 2697.6 369.9 2699.3 364.8 2700.3 391.4 2700.6 376.8 2701.6 370.4 2702.6 373.3 2703.6 373.2 2704.6 382.2 2705.6 368.9 2706.6 373.4 2707.6 364.4 2708.6 369.1 2709.9 361.6 2710.6 378.6 2711.6 379.9 2712.6 366.6 2713.6 377.1 2714.6 369.1 2716.3 385 2716.6 374.1 2717.6 363.8 2718.6 372.2 2720.5 361.6 2720.6 365.2 2721.6 366.2 2722.6 374.8 2723.6 374.1 2724.6 365.9 2725.9 385 2726.6 372.6 2727.6 376.1 2728.6 367.9 2729.6 367.5 2731.2 367 2731.6 372.7 2732.6 367.4 2733.6 373.1 2735.4 381.8 2735.6 366.9 2736.6 373.5 2737.6 366.4 2738.6 369.9 2739.6 373.3 2740.7 356.3 2741.6 371.2 2742.6 375 2743.6 377.6 2744.6 377.1 2746.1 379.7 2746.6 372.6 2747.6 376.6 2748.6 370.7 2750.3 362.7 2750.6 370.4 2751.6 370.7 2752.6 374.2 2753.6 372.2 2754.6 372.5 2755.6 367.8 2756.6 375.1 2757.6 373.7 2758.6 373.1 2759.6 372.8 2760.6 374.8 2762 368 2763.1 382.9 2763.6 374.5 2764.6 368.8 2765.6 374.7 2766.6 368.8 2767.6 365 2768.6 367 2770.5 360.6 2770.6 379.7 2771.6 369 2772.6 370.3 2773.6 370.1 2774.6 378.8 2775.6 369.4 2776.6 376.4 2777.6 367.6 2778.6 368.5 2780.1 379.7 2781.1 363.8 2781.6 365.5 2782.6 373.7 2783.6 377.8 2784.6 368.5 2785.6 369.1 2786.6 373.8 2787.6 367.1 2788.6 369.6 2790.3 363.8 2790.6 377.6 2791.6 373.8 2792.8 384 2793.6 374.2 2794.6 372.8 2795.6 371.5 2796.6 375.2 2797.6 373.1 2799.2 362.7 2799.6 370 2800.6 372.6 2801.6 373.4 2802.6 373.6 2803.6 372.8 2804.6 377.9 2805.6 371.7 2806.6 376.4 2807.7 359.5 2808.8 377.6 2809.6 372 2810.6 378.1 2811.6 368.7 2812.6 371.4 2813.6 378.1 2814.6 371.3 2815.6 375.7 2816.6 366 2818.3 388.2 2819.4 365.9 2819.6 370 2820.6 376.1 2821.6 371.2 2822.6 372.5 2823.6 366.2 2824.6 370.4 2825.6 369.6 2826.6 378.3 2827.6 367.9 2828.6 362.6 2829.6 368.6 2831.1 358.5 2831.6 372.4 2832.6 371.3 2833.6 377.4 2834.6 371.3 2835.6 377.9 2836.6 372 2838.5 385 2838.6 374.1 2839.6 376.1 2840.6 369.7 2841.7 364.8 2842.6 378.8 2843.6 372.5 2844.6 378.2 2845.6 366.1 2847 386.1 2847.6 365.9 2848.6 368.5 2849.6 365.8 2850.6 369.8 2852.3 363.8 2852.6 370.1 2853.6 374.1 2855.5 381.8 2855.6 376 2856.6 371.8 2857.6 374.6 2858.6 374.2 2859.6 369.1 2860.6 372.9 2861.6 378.9 2863 358.5 2863.6 373.3 2865.1 379.7 2865.6 375.5 2866.6 373.6 2867.6 376.9 2868.6 367.4 2869.6 364.6 2870.6 376.8 2871.6 369.8 2872.6 370 2873.6 376.5 2874.7 364.8 2875.6 371.9 2876.8 384 2877.6 366.1 2878.6 368.5 2879.6 364.8 2880.6 377.9 2881.6 376 2882.6 370.8 2884.2 384 2884.6 370.4 2885.6 372.1 2886.6 374.4 2888.5 356.3 2888.6 374.7 2889.6 375.8 2890.6 369.7 2891.6 382.4 2892.7 385 2893.6 363.8 2894.9 360.6 2895.6 375 2896.6 379.6 2897.6 369.6 2898.6 379.2 2899.6 370.5 2900.6 374.3 2901.6 369.6 2903.4 364.8 2903.6 368.8 2904.6 366.4 2905.6 374.7 2906.6 373.8 2907.6 372.5 2908.7 387.2 2909.7 363.8 2910.6 379.1 2911.6 369.6 2912.6 371.8 2913.6 378.5 2914.6 367 2915.6 366.4 2916.6 378.2 2918.2 360.6 2918.6 370 2920.4 379.7 2920.6 367.1 2921.6 368.7 2922.6 377.1 2923.6 379.4 2924.6 373 2925.6 375.1 2926.8 357.4 2927.6 372.5 2928.6 373 2929.6 369.3 2930.6 375.8 2931.6 373.4 2932.6 362.4 2933.6 373.2 2934.6 367.8 2935.6 370.6 2936.6 371 2938.4 393.5 2939.5 362.7 2939.6 378.1 2940.6 369.2 2941.6 372.8 2942.6 367.5 2943.6 363.1 2944.6 371.4 2945.9 359.5 2946.6 368.3 2947.6 377.8 2948.6 371.9 2949.6 365.3 2950.6 372.8 2952.3 380.8 2952.6 375 2953.6 371.7 2955.5 363.8 2955.6 373.2 2956.6 373.5 2957.6 374 2958.6 367 2959.6 376 2960.8 386.1 2961.6 374.1 2962.9 368 2963.6 374.6 2964.6 368.2 2965.6 373.6 2966.6 367.6 2967.6 371.9 2969.3 382.9 2969.6 372.6 2970.6 378.3 2972.5 362.7 2972.6 367.7 2973.6 370.4 2974.6 371 2975.6 372.9 2976.6 373.9 2977.6 376.6 2978.6 369.7 2979.9 365.9 2980.6 371.8 2981.6 373.5 2982.6 374.2 2983.6 372.2 2985.2 377.6 2986.3 365.9 2986.6 372.8 2987.6 368.1 2988.6 370.3 2989.6 374.3 2990.6 376 2991.6 373.3 2992.6 375.7 2993.6 372.3 2994.6 371 2995.6 370.1 2996.6 370.8 2998 382.9 2999 362.7 2999.6 373.3 3000.6 369.9 3001.6 376.4 3003.3 361.6 3003.6 372.8 3004.6 368.9 3005.6 371.2 3006.6 378.1 3007.6 377.5 3008.6 379.5 3009.7 382.9 3010.6 364.9 3011.6 378.8 3012.8 362.7 3013.6 373 3014.6 365.5 3015.6 368.4 3016.6 367.6 3017.6 374.3 3018.6 369.9 3019.6 364 3021.4 361.6 3021.4 377.6 3021.6 372.6 3022.6 371.1 3023.6 373.6 3024.6 372.5 3025.6 371.1 3026.6 367.2 3027.6 376 3028.6 378.2 3029.6 372.3 3030.6 371.6 3032 360.6 3032.6 366.3 3033.6 369.3 3034.6 375.2 3035.6 369.9 3037.3 382.9 3037.6 367.3 3038.6 371.1 3039.6 374 3040.6 369.5 3041.6 374 3042.6 361.6 3043.6 380.1 3044.6 366.9 3045.6 377.8 3046.6 373.8 3047.6 373.7 3048.6 373.8 3049.6 373.6 3051.1 362.7 3052.2 380.8 3052.6 378 3053.6 370.4 3054.6 372.4 3055.6 372.3 3056.6 368.2 3057.6 368.1 3058.6 367.1 3059.6 365 3060.7 360.6 3061.6 370.7 3062.8 379.7 3063.6 378.5 3064.6 371.7 3065.6 372.4 3066.6 372.2 3067.6 374.9 3069.2 362.7 3069.6 376.1 3070.6 369.2 3071.6 368.3 3072.6 377.4 3073.6 370 3075.6 360.6 3075.6 373.3 3076.6 374.3 3077.7 384 3078.6 369.2 3079.6 372.7 3080.6 375.1 3081.6 372.2 3082.6 380.1 3083.6 375.1 3084.6 374.4 3086.2 360.6 3086.6 378.3 3088.3 379.7 3088.6 371.8 3089.6 371.4 3090.6 375.1 3091.6 373.3 3092.6 369.5 3093.6 367.7 3094.6 376.1 3095.6 370.9 3096.8 358.5 3097.6 367.5 3098.9 381.8 3099.6 372.7 3100.6 376.2 3101.6 376.2 3102.6 374.1 3103.6 377.3 3104.6 363.3 3105.6 375.2 3106.6 370.9 3108.5 361.6 3108.5 382.9 3108.6 371.8 3109.6 369.7 3110.8 360.6 3111.6 374.4 3112.6 378.8 3113.6 364.7 3114.7 383.1 3115.6 373 3116.6 372 3117.6 371.6 3119.6 358.7 3119.6 365.8 3120.6 368.5 3121.6 366.5 3122.6 368.4 3123.6 371.8 3125.4 362.6 3125.6 371.4 3126.6 376.2 3127.6 382 3128.6 373.7 3129.6 377.8 3131.3 387 3131.6 365.8 3133.2 364.5 3133.6 366 3134.6 367.6 3135.6 374.9 3136.6 364.3 3137.6 379.6 3138.6 377.5 3139.6 375.8 3141.1 378.2 3141.6 376.5 3143.4 357.7 3143.6 372 3144.6 371.7 3145.6 364.3 3146.6 368.3 3147.6 367.5 3148.6 370.9 3149.6 373.2 3150.6 375.3 3151.8 365.5 3152.6 378.5 3153.6 376.2 3154.6 374.2 3155.6 369.2 3156.6 380.5 3157.6 379.2 3158.7 387 3159.7 362.6 3160.6 371.5 3161.6 377.7 3162.6 371 3163.6 374.5 3164.6 376 3165.6 378.4 3166.6 373 3168.5 363.6 3168.6 375.5 3169.6 375.1 3170.6 375.2 3172.4 381.2 3172.6 371.8 3173.6 372 3175.3 360.6 3175.6 379.7 3176.6 373.3 3177.6 370.9 3178.6 368.2 3179.6 369.3 3180.6 371.7 3182.1 362.6 3182.6 377.3 3184.1 382.1 3184.6 375.9 3185.6 368.5 3186.6 375.9 3187.6 367.7 3189.6 359.7 3189.6 366.1 3190.6 377.9 3191.6 370.5 3192.9 385.1 3193.6 373.1 3194.6 366.6 3195.8 366.5 3196.6 369.6 3197.6 374.5 3198.6 371.1 3199.7 381.2 3200.6 376.3 3201.6 373.2 3202.6 371.7 3203.7 358.7 3204.6 371.9 3205.6 371.3 3206.6 376.4 3207.6 378.6 3208.6 374 3209.6 376 3211.5 362.6 3211.6 375.1 3213.4 379.2 3213.6 365.9 3214.6 368.9 3215.6 373.1 3216.6 377 3217.6 376.6 3219.3 368.5 3219.6 371.5 3220.6 368.9 3221.6 373.7 3223.2 385.1 3223.6 372 3224.6 371.5 3225.6 367.8 3226.6 380.7 3228.1 359.7 3228.6 371.9 3229.6 370.9 3230.6 368.9 3231.6 371.2 3233 378.2 3233.6 376.1 3234.6 374.4 3235.6 377.3 3236.9 365.5 3237.6 372 3238.6 372 3239.6 370.9 3240.6 375.9 3241.6 376.7 3242.6 367 3243.6 371.9 3244.6 365.7 3245.7 383.1 3246.7 363.6 3247.6 370.7 3248.6 379 3249.6 369 3250.6 367 3251.6 374.7 3252.6 381.8 3254.5 361.6 3254.6 369.3 3255.6 373.3 3257.4 386.1 3257.6 371.3 3258.6 382.8 3259.6 370.7 3261.4 365.5 3261.6 381.3 3262.6 376 3263.6 369.1 3264.6 379.8 3265.6 379.3 3266.6 374.4 3267.6 365.8 3269.2 358.7 3270.2 378.2 3270.6 365.9 3271.6 375.2 3272.6 368.2 3273.6 369.9 3274.6 371.4 3275.6 370.9 3277.6 358.7 3277.6 376.3 3279 384.1 3279.6 368.5 3280.6 367.3 3281.6 363 3282.6 368.2 3283.6 381.5 3284.6 378.1 3285.6 371.1 3286.6 372.3 3287.8 363.6 3288.6 380.6 3289.6 373.2 3290.6 374.2 3291.6 372.9 3292.6 383.1 3293.6 373.2 3295.6 358.7 3295.6 367.9 3296.6 365.1 3297.6 369.1 3299.5 383.1 3299.6 378.3 3300.6 377 3302.4 358.7 3302.6 375.9 3303.6 372.9 3304.6 374.7 3305.6 374.3 3306.6 377 3307.6 368.2 3308.6 368.7 3309.6 368.3 3310.6 373 3312.2 380.2 3312.6 370.6 3313.6 376.6 3315.1 359.7 3315.6 377 3316.6 375 3317.6 370 3318.6 373.3 3319.6 377.7 3320.6 372.2 3321.6 370.7 3323 380.2 3323.6 371.8 3324.6 375.9 3325.9 357.7 3326.6 372.3 3327.6 374.8 3328.6 374.3 3329.6 373.1 3330.6 368.6 3331.6 362.9 3332.6 364.3 3333.6 369.2 3334.6 374.8 3335.6 374.3 3336.7 388 3337.6 374 3338.6 362.6 3339.6 366.9 3340.6 382.6 3341.6 371.4 3342.6 381.5 3343.6 372.6 3344.6 366.8 3345.6 376.5 3347.4 380.2 3347.6 378.7 3348.6 367.1 3349.6 366.1 3351.3 359.7 3351.6 370.4 3352.6 367.1 3353.6 376.1 3354.6 367.6 3356.2 361.6 3356.6 365.5 3357.6 369.9 3358.6 371.4 3359.6 366.9 3361.1 382.1 3361.6 367.5 3362.6 376 3363.6 366.5 3364.6 369.3 3366 359.7 3366.6 371.9 3367.6 366.9 3368.6 368.6 3369.6 369.4 3370.6 374.7 3371.6 369.1 3372.6 377.2 3373.8 378.2 3374.6 373.1 3375.6 377.6 3376.7 358.7 3377.6 378.1 3378.6 370.7 3379.7 380.2 3380.6 373 3381.6 359.7 3382.6 372.2 3383.6 369.9 3384.6 370.9 3385.6 376.9 3386.6 372.2 3387.6 372.9 3389.5 382.1 3390.4 356.7 3390.6 375.4 3391.6 373.3 3392.6 374.5 3393.6 375.9 3394.6 374.3 3395.6 371.4 3396.6 362.4 3397.6 376.6 3398.6 370.1 3400.2 358.7 3400.6 379.3 3401.6 365.4 3402.6 374.1 3403.6 372 3404.6 367.3 3405.6 368.6 3406.6 378.5 3407.6 370.5 3409 380.2 3409.6 373.4 3410.6 370.4 3411.6 372.1 3412.9 364.5 3413.6 370.1 3414.6 371.6 3415.6 373.1 3416.6 368 3417.6 378.7 3418.6 374.5 3419.6 376.9 3420.6 373.3 3422.3 356.7 3422.6 374.7 3423.7 380.2 3424.6 373.3 3425.6 374.8 3426.6 374.7 3427.6 379 3428.6 372.8 3429.6 371.3 3430.6 375 3432.5 362.6 3432.5 381.2 3432.6 375.2 3433.6 375.1 3434.6 366.1 3435.6 371.9 3436.6 371.1 3437.6 373.7 3438.6 374.5 3439.6 375.9 3440.6 366.8 3441.6 378.9 3442.6 371.5 3444.2 362.6 3444.6 372.7 3446.2 380.2 3446.6 373.5 3447.6 378.5 3448.6 377.4 3449.6 368.6 3450.6 375.5 3452 364.5 3452.6 368.7 3454 387 3454.6 369.5 3455.6 370 3456.6 369.2 3457.6 377.8 3458.6 374.6 3459.6 369.9 3460.6 377.5 3461.6 366.3 3462.6 374.6 3463.8 380.2 3464.8 363.6 3465.6 372.8 3466.6 376.5 3467.6 371.2 3468.6 375.6 3469.6 373.6 3470.6 377.5 3471.6 367.3 3473.6 362.6 3473.6 380.2 3474.6 370.5 3475.6 371.5 3476.6 370.4 3477.6 377.7 3478.6 367.4 3479.6 367.6 3480.6 371.8 3481.6 370.9 3483.3 363.6 3484.3 390 3484.6 373.5 3485.6 369.1 3486.6 376.9 3487.6 369.7 3488.6 370.6 3489.6 379.5 3490.6 381 3491.6 373.1 3493.1 359.7 3493.6 373.3 3495.1 378.2 3495.6 367.9 3496.6 372.4 3497.6 374.5 3498.6 377.6 3499.6 372.9 3500.6 374.9 3501.9 360.6 3502.6 376.9 3503.6 373.1 3504.6 368.7 3505.6 372.3 3506.8 380.2 3507.6 376.1 3508.6 371.6 3509.6 375.9 3510.7 366.5 3511.6 377.1 3512.6 371.2 3513.6 374.2 3514.6 369.3 3515.6 371.7 3516.6 375 3518.5 364.5 3518.6 371.9 3520.5 379.2 3520.6 368.6 3521.6 373.2 3523.4 364.5 3523.6 376 3524.6 374.8 3525.6 375.4 3526.6 376.8 3528.3 381.2 3528.6 377.4 3529.6 371 3530.6 368.4 3532.2 362.6 3532.6 374 3533.6 369.7 3534.6 369.4 3535.6 366.8 3536.6 373.2 3537.6 373.8 3538.6 371.2 3540.1 364.5 3540.1 379.2 3540.6 372.3 3541.6 371.5 3542.6 367.7 3543.6 374.4 3544.6 371.6 3545.6 377.2 3546.6 373.4 3547.9 359.7 3547.9 385.1 3548.6 376.2 3549.6 376.6 3550.6 373.8 3551.6 375 3552.6 370.6 3553.6 368.3 3554.6 380.6" stroke="#000000" stroke-width="6.25" fill="none" stroke-linejoin="round" stroke-linecap="square"/>
<rect x="302.6" y="82.5" width="3250" height="580.9" fill="none" stroke="#000" stroke-width="3.333"/>
<path d="M302.6 663.4v14.58M872.6 663.4v14.58M1442.6 663.4v14.58M2012.6 663.4v14.58M2582.6 663.4v14.58M3152.6 663.4v14.58M302.6 188.4h-14.58M302.6 372.6h-14.58M302.6 556.8h-14.58" stroke="#000" stroke-width="3.333" fill="none"/>
<g font-family="DejaVu Sans, sans-serif" font-size="41.667" fill="#000">
<text x="302.6" y="723.4" text-anchor="middle">0</text>
<text x="872.6" y="723.4" text-anchor="middle">10</text>
<text x="1442.6" y="723.4" text-anchor="middle">20</text>
<text x="2012.6" y="723.4" text-anchor="middle">30</text>
<text x="2582.6" y="723.4" text-anchor="middle">40</text>
<text x="3152.6" y="723.4" text-anchor="middle">50</text>
<text x="272.9" y="203.6" text-anchor="end">0.5</text>
<text x="272.9" y="387.8" text-anchor="end">0.0</text>
<text x="272.9" y="572" text-anchor="end">−0.5</text>
</g>
<g font-family="DejaVu Sans, sans-serif" font-size="58.333" fill="#000">
<text x="1927.6" y="794" text-anchor="middle" textLength="239.2" lengthAdjust="spacing">Time (s)</text>
<text transform="translate(141.6 373.8) rotate(-90)" text-anchor="middle" textLength="616.5" lengthAdjust="spacing">Acceleration (cm/s/s)</text>
</g>
<clipPath id="c1"><rect x="302.6" y="856.4" width="3250" height="582"/></clipPath>
<path d="M302.6 856.4V1438.4M872.6 856.4V1438.4M1442.6 856.4V1438.4M2012.6 856.4V1438.4M2582.6 856.4V1438.4M3152.6 856.4V1438.4M302.6 987.3H3552.6M302.6 1147.5H3552.6M302.6 1307.7H3552.6" stroke="#b0b0b0" stroke-width="3.333" fill="none"/>
<path clip-path="url(#c1)" d="M302.6 1084.4L303.8 1084.4 305.1 1086 306.4 1087.6 307.7 1091.5 308.9 1094 311.2 1170.5 313.4 1173.7 315.3 1154.6 317.5 1186.5 319.8 1180.1 321 1157.2 322.3 1135.5 323.6 1134.3 324.9 1137.1 327.1 1148.2 328.7 1116.3 330.9 1154.6 332.2 1156.8 333.5 1161 335.1 1186.5 336.4 1189.1 337.6 1196 339.9 1148.2 341.5 1146.8 343 1145 344.6 1173.7 345.9 1160.7 347.2 1141.8 349.4 1103.6 351.7 1157.8 352.9 1148.7 354.2 1141.8 355.5 1156.4 356.8 1173.7 359 1151.4 360.6 1161 362.8 1196 365.1 1180.1 367 1148.2 368.2 1163.6 369.5 1176.9 370.8 1163.3 372.1 1148.2 373.3 1130.1 374.6 1111.5 375.9 1134.2 377.2 1161 378.4 1154.5 379.7 1148.2 381 1138.6 382.3 1125.9 384.5 1132.3 386.1 1167.3 387.4 1153.2 388.6 1145 390.9 1141.8 392.2 1148.8 393.4 1157.8 395.7 1116.3 396.9 1137.7 398.2 1167.3 400.4 1154.6 402.7 1141.8 404 1158.1 405.2 1180.1 406.8 1174.5 408.4 1176.9 409.7 1146.1 411 1116.3 413.2 1116.3 415.4 1154.6 417.3 1103.6 418.6 1084 419.9 1070.1 422.1 1122.7 424.4 1109.9 425.6 1106.6 426.9 1102 428.8 1132.3 430.7 1173.7 432.3 1161.3 433.9 1148.2 435.5 1157.4 437.1 1167.3 438.7 1134.7 440.3 1113.1 441.9 1110.4 443.5 1109.9 445.1 1125.9 447.3 1081.2 448.6 1097.1 449.9 1113.1 451.1 1115 452.4 1116.3 454.7 1100.4 456.9 1116.3 458.2 1135.3 459.4 1161 460.7 1134.4 462 1109.9 464.2 1132.3 466.5 1145 468.4 1138.6 470 1087.6 472.2 1138.6 473.5 1134.9 474.7 1135.5 477 1125.9 478.6 1123.3 480.2 1124.3 481.8 1145 483 1129.8 484.3 1109.9 486.5 1109.9 488.8 1141.8 490.1 1114.5 491.3 1090.8 492.6 1119.4 493.9 1148.2 496.1 1183.3 497.7 1177.3 499.3 1167.3 500.9 1186.8 502.5 1208.8 504.1 1197.4 505.7 1186.5 507.3 1172.4 508.9 1157.8 510.5 1153.1 512.1 1148.2 513.6 1119.5 515.2 1115.2 516.8 1116.3 518.1 1121.3 519.4 1125.9 520.8 1130.5 522.3 1129.1 523.5 1151.2 524.8 1180.1 527 1212 529 1176.9 531.2 1199.2 533.4 1229.5 534.7 1197.1 536 1161 537.6 1159.6 539.2 1157.8 540.4 1164.3 541.7 1173.7 543.9 1151.4 545.5 1164.2 547.4 1199.2 548.9 1194.1 550.3 1180.1 551.9 1176.9 554.1 1202.4 555.4 1196.1 556.7 1186.5 558.3 1167.9 559.9 1154.6 561.5 1156.4 563.1 1157.8 564.3 1173.4 565.6 1186.5 567.9 1170.5 569.1 1181.3 570.4 1192.9 572 1196 573.6 1196 574.9 1189.5 576.1 1183.3 577.6 1167.2 579 1148.2 580.6 1149.8 582.2 1145 584.4 1151.4 585.7 1134 587 1119.5 588.3 1132.7 589.5 1145 591.8 1167.3 594 1148.2 595.3 1150.4 596.6 1154.6 597.8 1169.2 599.1 1183.3 601.3 1117.9 602.9 1124.1 604.5 1135.5 606.1 1119.5 607.4 1123 608.7 1129.1 610.9 1125.9 612.5 1128.7 614.1 1132.3 616.3 1170.5 617.6 1172.5 618.9 1170.5 620.2 1155.5 621.4 1135.5 623.7 1090.8 625.3 1100.7 626.8 1116.3 629.1 1097.2 630.4 1081.9 631.6 1070.1 633.2 1084.4 635.5 1078.1 637.4 1141.8 639.6 1100.4 641.8 1106.8 643.1 1133.7 644.4 1157.8 646 1137.5 647.6 1125.9 649.2 1123.3 650.8 1122.7 652 1117.7 653.3 1113.1 654.9 1112.7 656.5 1106.8 658.7 1119.5 661 1113.1 662.2 1117.8 663.5 1119.5 665.8 1164.2 667 1150.7 668.3 1138.6 669.9 1183.3 671.2 1168.1 672.4 1154.6 674.7 1161 676.3 1141.3 677.9 1122.7 679.1 1150 680.4 1170.5 682 1109.9 684.2 1148.2 686.5 1090.8 688.4 1176.9 690.6 1122.7 692.2 1131.3 693.8 1141.8 696 1113.1 698 1145 700.2 1106.8 702.4 1141.8 703.7 1133.2 705 1125.9 706.2 1141 707.5 1154.6 709.8 1221.6 711 1211.7 712.3 1202.4 714.5 1243.9 715.8 1224.3 717.1 1205.6 719.1 1176.9 720.4 1156.9 721.7 1141.8 723.9 1113.1 726.1 1103.6 728.1 1062.1 729.7 1062.1 731.2 1062.1 733.5 1090.8 735.1 1148.2 736.4 1121.7 737.6 1097.2 739.9 1192.9 741.1 1155.6 742.4 1113.1 744.6 1227.9 746.2 1256.6 747.8 1164.2 749.4 1227.9 751.7 1119.5 752.9 1117.8 754.2 1113.1 756.1 1205.6 757.4 1231.1 759.3 1058.9 761.2 1183.3 763.1 1116.3 765.4 1180.1 767.6 1068.5 769.5 1186.5 770.8 1049.4 772.7 1148.2 774.9 1043 777.2 1164.2 779.1 1122.7 781.3 1119.5 783.5 1141.8 784.8 1205.6 786.1 1269.4 787.4 1240.6 788.6 1208.8 790.2 1176.2 791.8 1145 793.1 1179.2 794.4 1208.8 796.3 1058.9 798.2 1078.1 800.1 1007.9 802 1081.2 804 1058.9 805.2 1095.6 806.5 1132.3 808.4 1167.3 809.7 1192.5 811 1215.2 812.9 1161 814.2 1208.4 815.4 1261.4 816.7 1215.1 818 1167.3 819.9 1196 821.8 1148.2 823.1 1154.1 824.4 1167.3 825.6 1145.3 826.9 1132.3 828.2 1149.1 829.5 1167.3 831.4 1196 832.7 1162.2 833.9 1132.3 835.2 1119.9 836.5 1106.8 837.8 1126 839 1135.5 840.5 1100.1 841.9 1068.5 844.1 1141.8 845.4 1156.4 846.7 1173.7 848.6 1215.2 850.5 1275.8 851.8 1280.2 853.1 1283.7 854.3 1256.9 855.6 1227.9 857.8 1263 860.1 1148.2 861.4 1104.8 862.6 1062.1 864.2 1023.9 865.8 1021.8 867.4 1020.7 869 1030.2 870.6 1036.6 872.8 1017.5 874.1 1071.2 875.4 1122.7 877 1157.1 878.6 1196 880.5 1259.8 882.7 1267.8 884.9 1189.7 886.2 1186.3 887.5 1183.3 888.8 1165.8 890.1 1148.2 892 1046.2 893.9 1003.1 895.8 1030.2 897.7 1097.2 899 1064.6 900.3 1036.6 901.5 1081.8 902.8 1125.9 904.7 1135.5 906 1124 907.3 1116.3 908.9 1196 911.1 1199.2 913 1145 914.3 1148.8 915.6 1148.2 916.8 1167.8 918.1 1186.5 920 1106.8 921.3 1079.9 922.6 1052.6 924.8 1135.5 927 1103.6 928.3 1043 930.2 1097.2 931.5 1081.5 932.8 1068.5 934.1 1073 935.3 1078.1 937.6 1125.9 939.8 1141.8 941.7 1189.7 943.9 1208.8 945.5 1148.2 946.8 1164.5 948.1 1189.7 950 1227.9 951.3 1201.5 952.6 1180.1 953.8 1145.8 955.1 1109.9 956.4 1103.7 957.7 1106.8 958.9 1060.8 960.2 1011.1 962.1 1129.1 963.4 1085.4 964.7 1049.4 965.9 1118 967.2 1183.3 968.5 1163.9 969.8 1148.2 971 1200.2 972.3 1248.7 974.2 1100.4 976.1 1196 978.1 1243.9 980 1087.6 981.9 1161 983.2 1126.2 984.4 1090.8 986.4 1176.9 988.6 1116.3 990.8 1212 992.7 1141.8 995 1199.2 996.6 1141.8 998.5 1189.7 1000.4 1097.2 1001.7 1101.8 1002.9 1113.1 1004.2 1099.9 1005.5 1081.2 1006.8 1105.1 1008 1122.7 1009.3 1111.4 1010.6 1100.4 1012.5 1148.2 1013.8 1203.4 1015.1 1259.8 1017.3 1148.2 1018.6 1154.2 1019.8 1161 1021.3 1224.2 1022.7 1291.7 1024.1 1209.6 1025.5 1122.7 1026.8 1183.7 1028.1 1247.1 1029.3 1004.7 1030.6 1140.1 1031.9 1275.8 1033.8 947.3 1035.7 1243.9 1037.6 950.5 1039.9 1282.1 1042.1 1020.7 1043.4 1162.4 1044.6 1307.7 1045.9 1250.5 1047.2 1196 1049.4 1145 1051.7 1243.9 1053.6 1365.1 1055.8 1036.6 1058 1212 1059.3 1221.9 1060.6 1237.5 1061.9 1115.9 1063.1 988.8 1064.4 1058.6 1065.7 1129.1 1067.6 988.8 1069.5 1314 1071.4 1141.8 1072.7 937.8 1074 1345.9 1075.3 1239.6 1076.5 1129.1 1077.8 1215.2 1079.1 1301.3 1080.4 1200.9 1081.6 1103.6 1083.9 1409.7 1086.1 1036.6 1087.4 1161.8 1088.6 1288.5 1090.9 1192.9 1093.1 1106.8 1095 1011.1 1097.3 1129.1 1099.5 1135.5 1100.8 1081.6 1102 1030.2 1104 1269.4 1105.2 1192.9 1106.5 1116.3 1108.4 1269.4 1109.7 1236.7 1111 1205.6 1113.2 1403.3 1115.4 1154.6 1116.7 1230.5 1118 1307.7 1119.3 1234.5 1120.5 1167.3 1122.8 1256.6 1124.4 1052.6 1125.6 1114.6 1126.9 1180.1 1129.1 1084.4 1130.7 1072.1 1132.3 1052.6 1133.9 1227.9 1135.2 1180.2 1136.5 1135.5 1137.8 1187.3 1139 1243.9 1140.3 1173.7 1142.2 1315.6 1143.7 1264.5 1145.1 1212 1147.3 1189.7 1149.2 1154.6 1151.5 1116.3 1153.7 1071.7 1155 1093.9 1156.2 1109.9 1157.8 1049.4 1160.1 1084.4 1162 1116.3 1164.2 1106.8 1166.5 1167.3 1167.7 1149.8 1169 1138.6 1170.9 1240.7 1172.4 1238.6 1173.8 1237.5 1176 1173.7 1177.9 1180.1 1180.2 1256.6 1181.8 1122.7 1183 1111.7 1184.3 1103.6 1185.6 1106.1 1186.9 1116.3 1188.8 1049.4 1190.1 1051 1191.3 1049.4 1192.6 1050.9 1193.9 1052.6 1195.8 1109.9 1197.7 1071.7 1199.6 1164.2 1201.5 1071.7 1203.4 1183.3 1205.7 1125.9 1207.9 1227.9 1209.8 1212 1211.7 1267.8 1213.6 1109.9 1214.9 1164.3 1216.2 1218.4 1218.4 1043 1220.7 1039.8 1221.9 1030.2 1223.2 1023.9 1225.1 1094 1227 1027 1229 1113.1 1231.2 1036.6 1233.4 1170.5 1235.3 1103.6 1237.6 1221.6 1239.8 1145 1241.1 1185.9 1242.3 1224.7 1244.3 1145 1246.2 1199.2 1247.4 1185.3 1248.7 1173.7 1250 1162.2 1251.3 1151.4 1253.5 1065.3 1254.9 1096.4 1256.4 1132.3 1258.3 1017.5 1259.9 1106.8 1262.1 1109.9 1263.4 972.8 1264.7 1013.2 1265.9 1058.9 1267.9 1036.6 1269.8 1122.7 1271.7 1078.1 1273.6 1250.3 1275.8 1176.9 1278.1 1302.9 1280 1192.9 1281.9 1250.3 1283.8 1173.7 1285.4 1087.6 1287.6 1129.1 1289.5 982.4 1291.8 1017.5 1293.4 982.4 1294.6 1033.2 1295.9 1078.1 1298.2 1071.7 1300.4 1192.9 1301.7 1180.6 1302.9 1170.5 1304.8 1272.6 1306.8 1212 1308.7 1231.1 1310.9 1176.9 1313.1 1208.8 1314.4 1152 1315.7 1094 1317.6 1058.9 1319 1049.3 1320.5 1039.8 1322.7 1081.2 1324 1062.7 1325.3 1046.2 1327 1046.2 1328.9 1081.2 1331.2 1055.7 1332.8 1094 1334.3 1065.3 1336.6 1071.7 1338.5 1170.5 1340.7 1132.3 1342.3 1212 1343.6 1194.9 1344.9 1180.1 1346.8 1221.6 1348.1 1194.2 1349.3 1164.2 1351.2 1186.5 1352.5 1116.3 1353.8 1091.7 1355.1 1068.5 1356.4 1074.5 1357.6 1081.2 1358.9 1057.4 1360.2 1033.4 1361.5 1059.9 1362.7 1081.2 1364 1084.3 1365.3 1084.4 1366.6 1114 1367.8 1141.8 1369.7 1122.7 1371.7 1176.9 1373.6 1205.6 1375.8 1161 1378 1202.4 1379.9 1148.2 1382.2 1161 1384.4 1116.3 1385.7 1137.4 1387 1161 1388.9 1071.7 1390.8 1132.3 1392.7 1071.7 1394.6 1135.5 1396.5 1078.1 1398.1 1065.3 1399.7 1138.6 1401 1124.4 1402.3 1116.3 1404.5 1141.8 1406.7 1132.3 1408 1180.6 1409.3 1224.7 1410.9 1215.7 1412.5 1202.4 1414.1 1253.4 1416.3 1253.4 1417.6 1229.2 1418.9 1205.6 1420.1 1181.3 1421.4 1154.6 1423.6 1109.9 1425.2 1070.2 1426.8 1027 1428.4 1028.9 1430 1027 1432.2 1113.1 1433.5 1116.8 1434.8 1116.3 1436.1 1140.8 1437.3 1167.3 1438.9 1208.9 1440.5 1243.9 1442.8 1283.7 1444 1270.6 1445.3 1263 1447.6 1180.1 1449.1 1150.1 1450.7 1116.3 1452 1096.7 1453.3 1074.9 1454.9 1059.3 1456.5 1039.8 1458.7 1074.9 1460.9 1109.9 1462.2 1146 1463.5 1173.7 1464.8 1199.3 1466 1218.4 1468.3 1151.4 1470.5 1282.1 1471.8 1230.2 1473.1 1183.3 1474.7 1158.8 1476.2 1141.8 1477.8 1259.8 1479.4 1205.6 1481.4 1122.7 1483.3 1256.6 1485.2 1148.2 1487.1 1231.1 1488.4 1177.1 1489.6 1119.5 1491.6 1208.8 1493.5 1087.6 1495.4 1129.1 1497.3 1090.8 1499.2 1180.1 1501.1 1094 1502.7 1266.2 1504.9 1173.7 1506.9 1291.7 1508.8 1307.7 1510.7 1192.9 1512.6 1298.1 1514.5 1176.9 1516.4 1234.3 1518.3 1052.6 1519.6 1104.5 1520.9 1161 1522.2 1105.1 1523.4 1049.4 1525.4 1135.5 1526.6 1046.2 1528.9 1196 1530.5 1103.6 1532.4 1227.9 1534.3 1154.6 1535.6 1213 1536.8 1267.8 1538.8 1161 1540.7 1263 1541.9 1217.9 1543.2 1180.1 1544.5 1208.9 1545.8 1247.1 1548 1157.8 1550.2 1221.6 1552.1 1167.3 1554.4 1215.2 1556.6 1116.3 1558.5 1183.3 1560.8 1154.6 1563 1116.3 1564.9 1078.1 1566.8 1180.1 1568.1 1150.4 1569.4 1119.5 1570.6 1140.3 1571.9 1161 1573.2 1173.2 1574.5 1186.5 1575.7 1194.5 1577 1202.4 1578.5 1218.1 1579.9 1237.5 1582.1 1212 1583.4 1167.2 1584.7 1129.1 1585.9 1131.9 1587.2 1135.5 1589.5 1030.2 1591.7 1078.1 1593.6 1001.5 1595.8 1078.1 1598.1 1036.6 1599.3 1068 1600.6 1103.6 1602.2 1158.9 1603.8 1221.6 1605.1 1209.9 1606.4 1196 1608.6 1164.2 1610.2 1178.4 1611.8 1192.9 1614 1116.3 1615.3 1106.1 1616.6 1094 1618.2 1090.2 1619.7 1090.8 1621 1073.4 1622.3 1058.9 1624.5 1100.4 1626.8 1081.2 1628 1080.6 1629.3 1084.4 1630.6 1092.1 1631.9 1103.6 1634.1 1122.7 1635.7 1148.2 1637.3 1142.3 1638.9 1135.5 1640.2 1136.9 1641.4 1141.8 1643.7 1170.5 1645.3 1169.7 1646.8 1167.3 1648 1170.5 1650.2 1119.5 1651.5 1131.4 1652.8 1141.8 1654 1133.5 1655.3 1116.3 1657.5 1129.1 1659.1 1098.8 1661 1129.1 1663 1109.9 1664.2 1126 1665.5 1148.2 1666.8 1166.1 1668.1 1180.1 1670.3 1186.5 1671.9 1183.1 1673.5 1180.1 1675.7 1192.9 1677 1189.6 1678.3 1186.5 1679.5 1167.3 1680.8 1154.6 1683 1145 1685.3 1122.7 1686.6 1128.1 1687.8 1135.5 1689.4 1090.8 1691 1044.6 1692.6 1087.6 1694.8 1058.9 1696.8 1084.4 1699 1078.1 1701.2 1145 1702.5 1164.2 1703.8 1180.1 1705.1 1187.9 1706.3 1196 1707.6 1191.4 1708.9 1186.5 1710.8 1208.8 1712.1 1190.6 1713.3 1173.7 1714.6 1161.9 1715.9 1145 1718.1 1109.9 1720.4 1103.6 1722.3 1119.5 1724.2 1090.8 1726.1 1052.6 1728 1116.3 1729.9 1071.7 1731.8 1148.2 1734.1 1122.7 1736.3 1173.7 1737.6 1176.9 1738.9 1180.1 1740.4 1234.3 1742.7 1180.1 1744 1199.2 1745.2 1227.9 1746.5 1205.7 1747.8 1186.5 1750 1116.3 1752.2 1148.2 1753.5 1118.4 1754.8 1097.2 1756.1 1102.8 1757.3 1122.7 1759.6 1102 1761.8 1129.1 1763.1 1124.7 1764.4 1122.7 1765.6 1144.8 1766.9 1161 1768.5 1212 1770.7 1227.9 1772.7 1205.6 1774.9 1234.3 1777.1 1161 1778.4 1183.4 1779.7 1205.6 1781.9 1100.4 1784.1 1154.6 1786 1090.8 1787.3 1091.4 1788.6 1097.2 1790.5 1066.9 1792.4 1141.8 1794.7 1103.6 1796.9 1141.8 1798.2 1155.7 1799.4 1173.7 1800.7 1184.2 1802 1189.7 1803.3 1188.4 1804.5 1186.5 1806.5 1227.9 1807.7 1207.3 1809 1186.5 1810.3 1176.8 1811.6 1167.3 1812.8 1154.7 1814.1 1141.8 1815.5 1124.5 1817 1103.6 1818.6 1081.2 1820.5 1116.3 1822.4 1100.4 1823.7 1111.2 1824.9 1119.5 1826.2 1147.1 1827.5 1173.7 1828.8 1160.3 1830.1 1151.4 1831.3 1160.5 1832.6 1167.3 1833.9 1162.7 1835.2 1161 1836.4 1144.2 1837.7 1122.7 1839 1129.5 1840.3 1141.8 1841.5 1127.2 1842.8 1113.1 1845 1129.1 1847.3 1102 1849.2 1135.5 1851.1 1135.5 1852.4 1132.3 1853.6 1129.1 1854.9 1126.2 1856.2 1129.1 1858.4 1167.3 1860.7 1132.3 1861.9 1134.5 1863.2 1129.1 1865.4 1145 1866.7 1129.1 1868 1106.8 1870.2 1132.3 1871.5 1121.7 1872.8 1113.1 1874.1 1122.8 1875.3 1129.1 1876.6 1147.5 1877.9 1164.2 1879.3 1156 1880.8 1159.4 1882.2 1163.9 1883.6 1167.3 1884.9 1181.6 1886.2 1196 1887.4 1177.1 1888.7 1157.8 1890.3 1142.7 1891.9 1132.3 1893.2 1144.4 1894.5 1157.8 1895.7 1135.1 1897 1113.1 1898.3 1123.7 1899.6 1129.1 1901.5 1109.9 1902.8 1131.4 1904 1151.4 1905.3 1137 1906.6 1122.7 1908.5 1161 1909.8 1167.5 1911 1167.3 1913 1202.4 1914.2 1183.7 1915.5 1167.3 1916.8 1180.8 1918.1 1196 1919.3 1180.9 1920.6 1173.7 1922.8 1148.2 1924.1 1151.7 1925.4 1148.2 1927.6 1138.6 1928.9 1139.2 1930.2 1135.5 1931.5 1143.9 1932.7 1148.2 1934.6 1116.3 1935.9 1132.1 1937.2 1145 1938.5 1161.2 1939.7 1176.9 1941 1185.4 1942.3 1192.9 1943.6 1200.3 1944.8 1208.8 1946.3 1209.9 1947.7 1212 1949.9 1205.6 1951.2 1204.1 1952.5 1202.4 1953.8 1188.2 1955.1 1167.3 1957.3 1084.4 1958.9 1082.5 1960.5 1078.1 1962.7 1100.4 1964.6 1065.3 1966.8 1090.8 1969.1 1132.3 1970.4 1152.9 1971.6 1173.7 1972.9 1191.6 1974.2 1212 1976.4 1227.9 1978.6 1243.9 1979.9 1223.3 1981.2 1205.6 1982.5 1193.2 1983.8 1173.7 1986 1116.3 1988.2 1094 1989.5 1096.7 1990.8 1097.2 1992 1094.2 1993.3 1090.8 1994.6 1096.4 1995.9 1103.6 1997.1 1113.9 1998.4 1129.1 2000.3 1170.5 2001.6 1178.4 2002.9 1186.5 2005.1 1212 2007.3 1221.6 2008.6 1202.8 2009.9 1180.1 2011.5 1172.9 2013.1 1167.3 2014.7 1163.7 2016.3 1161 2018.2 1122.7 2019.5 1122.2 2020.7 1122.7 2022.7 1132.3 2024.2 1115 2025.8 1097.2 2027.1 1106.4 2028.4 1122.7 2030.6 1167.3 2032.2 1173.2 2033.8 1180.1 2035.4 1192.6 2037 1208.8 2038.6 1209.2 2040.2 1205.6 2041.8 1194.4 2043.4 1186.5 2045.6 1148.2 2046.9 1133.5 2048.2 1116.3 2049.8 1116.5 2051.4 1109.9 2052.9 1104.5 2054.5 1100.4 2055.8 1113.4 2057.1 1129.1 2059.3 1145 2060.2 1141.8 2061.5 1150.2 2062.8 1157.8 2064.3 1157.8 2065.9 1157.8 2067.2 1142.8 2068.5 1132.3 2069.8 1128.5 2071 1122.7 2072.3 1119.2 2073.6 1106.8 2074.9 1099.8 2076.1 1094 2077.7 1090.4 2079.3 1087.6 2080.6 1083.7 2081.9 1084.4 2083.2 1094.7 2084.4 1103.6 2085.7 1115.2 2087 1132.3 2088.9 1116.3 2090.2 1123.5 2091.5 1135.5 2092.7 1141.5 2094 1141.8 2095.3 1125.5 2096.6 1113.1 2098.5 1097.2 2099.7 1106 2101 1109.9 2102.9 1081.2 2104.8 1106.8 2106.1 1099 2107.4 1084.4 2109.3 1119.5 2110.7 1124.9 2112.2 1129.1 2114.4 1148.2 2115.7 1146.2 2117 1141.8 2118.2 1136.6 2119.5 1122.7 2120.8 1127.1 2122.1 1132.3 2123.3 1116.6 2124.6 1103.6 2126.5 1062.1 2127.8 1060.7 2129.1 1065.3 2130.4 1071.8 2131.6 1078.1 2132.9 1078.1 2134.2 1071.7 2136.1 1100.4 2137.4 1116.8 2138.6 1129.1 2140.9 1148.2 2143.1 1176.9 2144.4 1178 2145.7 1183.3 2146.9 1163.9 2148.2 1148.2 2149.5 1150.3 2150.8 1154.6 2152.7 1129.1 2154 1110.6 2155.2 1090.8 2157.1 1078.1 2159.1 1103.6 2160.3 1098.3 2161.6 1094 2162.9 1105.6 2164.2 1116.3 2165.4 1136.1 2166.7 1154.6 2168 1160.3 2169.3 1167.3 2170.5 1176.8 2171.8 1186.5 2173.7 1221.6 2176 1173.7 2178.2 1170.5 2180.1 1192.9 2182.3 1167.3 2184.6 1141.8 2185.8 1139.1 2187.1 1135.5 2188.4 1128.9 2189.7 1122.7 2191.9 1116.3 2194.1 1135.5 2195.4 1150.9 2196.7 1164.2 2198 1166.7 2199.2 1161 2201.5 1186.5 2203.7 1215.2 2205 1218.1 2206.2 1218.4 2207.5 1228.1 2208.8 1237.5 2211 1212 2213.3 1180.1 2214.5 1171.6 2215.8 1170.5 2217.1 1160.2 2218.4 1148.2 2220.6 1132.3 2222.8 1148.2 2224.1 1147.1 2225.4 1154.6 2227.6 1173.7 2228.9 1180.2 2230.2 1192.9 2232.4 1212 2233.7 1213.9 2234.9 1212 2236.5 1205.6 2238.1 1196 2239.4 1184.6 2240.7 1173.7 2242 1163.6 2243.2 1161 2244.5 1153.8 2245.8 1148.2 2247.1 1145.1 2248.3 1145 2249.6 1154.4 2250.9 1161 2252.5 1178.7 2254.1 1186.5 2255.7 1193.3 2257.3 1199.2 2259.5 1208.8 2260.8 1200.7 2262.1 1196 2264.3 1180.1 2265.6 1169.6 2266.8 1164.2 2268.1 1156.1 2269.4 1148.2 2270.7 1143 2271.9 1138.6 2273.2 1137.7 2274.5 1141.8 2275.8 1146.9 2277 1151.4 2278.3 1152.1 2279.6 1157.8 2280.9 1166.6 2282.1 1170.5 2284.4 1186.5 2286.6 1202.4 2287.9 1193.6 2289.2 1180.1 2290.4 1172.9 2291.7 1161 2293 1153.5 2294.3 1148.2 2295.5 1135 2296.8 1119.5 2298.1 1124 2299.4 1129.1 2300.6 1134.6 2301.9 1141.8 2303.2 1144.3 2304.5 1148.2 2305.7 1153.3 2307 1164.2 2308.3 1172.1 2309.6 1186.5 2310.8 1178.7 2312.1 1167.3 2313.4 1176.5 2314.7 1186.5 2315.9 1183.8 2317.2 1180.1 2318.5 1179.1 2319.8 1173.7 2321 1171.5 2322.3 1176.9 2323.6 1165.6 2324.9 1157.8 2326.1 1158.2 2327.4 1157.8 2328.7 1153.9 2330 1148.2 2331.2 1139.4 2332.5 1132.3 2334.8 1119.5 2337 1145 2338.3 1145.7 2339.5 1141.8 2340.8 1139.1 2342.1 1135.5 2343.4 1142.4 2344.6 1154.6 2345.9 1152.5 2347.2 1154.6 2348.5 1153.2 2349.7 1148.2 2351 1150.8 2352.3 1151.4 2354.5 1157.8 2356.8 1138.6 2358 1132.9 2359.3 1135.5 2360.6 1143.2 2361.9 1145 2363.1 1130.4 2364.4 1113.1 2365.7 1132 2367 1145 2368.2 1137.8 2369.5 1132.3 2370.8 1130 2372.1 1129.1 2373.3 1139.4 2374.6 1154.6 2375.9 1157 2377.2 1148.2 2378.4 1146.2 2379.7 1145 2381 1148.5 2382.3 1145 2383.5 1135.6 2384.8 1129.1 2386.1 1124.7 2387.4 1119.5 2388.6 1120.6 2389.9 1129.1 2391.2 1129.8 2392.5 1132.3 2393.8 1142.4 2395 1148.2 2396.3 1145.5 2397.6 1148.2 2399.2 1150.6 2400.8 1148.2 2402 1142.6 2403.3 1135.5 2404.6 1123.6 2405.9 1116.3 2407.1 1113.6 2408.4 1113.1 2409.7 1113.7 2411 1116.3 2412.2 1109.8 2413.5 1103.6 2415.4 1094 2417.3 1109.9 2418.6 1110.4 2419.9 1113.1 2421.2 1114.5 2422.4 1119.5 2423.7 1126.8 2425 1135.5 2426.3 1142.8 2427.6 1154.6 2428.8 1153.3 2430.1 1157.8 2431.4 1151.3 2432.7 1145 2433.9 1139 2435.2 1129.1 2436.5 1113 2437.8 1103.6 2439 1102 2440.3 1100.4 2442.2 1087.6 2443.5 1095.8 2444.8 1106.8 2446 1096.6 2447.3 1090.8 2448.6 1100.7 2449.9 1106.8 2451.1 1105.6 2452.4 1106.8 2453.7 1111.7 2455 1109.9 2456.2 1125.8 2457.5 1145 2458.8 1149.1 2460.1 1151.4 2461.4 1147.7 2462.6 1145 2463.9 1148.1 2465.2 1154.6 2466.5 1144.7 2467.7 1132.3 2468.9 1151.4 2471.2 1145 2472.8 1116.3 2474 1114.4 2475.3 1113.1 2476.6 1084.4 2477.9 1096.9 2479.1 1106.8 2480.4 1095.5 2481.7 1084.4 2483 1076.5 2484.2 1073.3 2486.1 1094 2488.1 1119.5 2490.3 1097.2 2491.9 1132.3 2493.8 1135.5 2495.7 1170.5 2497 1159.2 2498.3 1148.2 2499.9 1164.2 2501.5 1129.1 2502.7 1126 2504 1122.7 2506.2 1103.6 2507.8 1125.9 2509.7 1084.4 2511 1089.7 2512.3 1090.8 2513.6 1084 2514.8 1081.2 2516.8 1106.8 2518 1098.7 2519.3 1090.8 2521.2 1116.3 2523.1 1129.1 2525.4 1148.2 2527.6 1122.7 2528.9 1117.3 2530.2 1119.5 2531.4 1136.9 2532.7 1151.4 2534 1131.5 2535.3 1116.3 2536.5 1112.4 2537.8 1116.3 2539.1 1119.4 2540.4 1122.7 2541.6 1114 2542.9 1100.4 2544.2 1116.2 2545.5 1138.6 2546.7 1110.7 2548 1087.6 2549.3 1100.3 2550.6 1116.3 2551.8 1118.6 2553.1 1125.9 2554.4 1117.2 2555.7 1106.8 2557.6 1170.5 2558.9 1156 2560.1 1145 2562 1192.9 2563.3 1194.5 2564.6 1199.2 2565.9 1205.3 2567.1 1208.8 2569.1 1180.1 2570.3 1188 2571.6 1199.2 2572.9 1177.9 2574.2 1154.6 2575.4 1139.7 2576.7 1129.1 2578.6 1090.8 2579.9 1094.5 2581.2 1103.6 2582.4 1120.3 2583.7 1145 2585 1142.7 2586.3 1132.3 2587.6 1160.3 2588.8 1189.7 2590.1 1193.4 2591.4 1196 2592.7 1188 2593.9 1180.1 2595.8 1199.2 2597.8 1180.1 2599 1172.5 2600.3 1164.2 2602.2 1157.8 2603.7 1167.5 2605.1 1176.9 2607.3 1167.3 2608.6 1171.5 2609.9 1167.3 2611.1 1173 2612.4 1183.3 2614.7 1164.2 2616.9 1180.1 2618.2 1179.9 2619.4 1186.5 2620.7 1181.1 2622 1180.1 2623.3 1193.1 2624.5 1212 2626.5 1183.3 2627.7 1205.7 2629 1224.7 2630.3 1205.8 2631.6 1183.3 2633.8 1208.8 2635.1 1195.5 2636.3 1186.5 2638.6 1135.5 2640.5 1173.7 2642.4 1135.5 2643.7 1132.4 2644.9 1135.5 2646.9 1173.7 2648.8 1167.3 2650.7 1196 2652.9 1186.5 2655.2 1224.7 2656.4 1222.4 2657.7 1221.6 2659 1210.3 2660.3 1192.9 2662.5 1199.2 2664.7 1157.8 2666 1148.4 2667.3 1151.4 2668.5 1160.5 2669.8 1167.3 2672.1 1148.2 2674.3 1151.4 2675.6 1174.5 2676.8 1202.4 2678.1 1201.5 2679.4 1196 2680.7 1196.9 2681.9 1202.4 2683.2 1208.2 2684.5 1215.2 2685.8 1191.1 2687 1173.7 2688.3 1158.8 2689.6 1148.2 2690.9 1149.7 2692.1 1145 2693.4 1150 2694.7 1151.4 2696 1153.7 2697.2 1157.8 2698.5 1157.5 2699.8 1161 2701.7 1183.3 2703 1168 2704.3 1161 2705.5 1166.5 2706.8 1173.7 2708.1 1168.9 2709.4 1164.2 2710.6 1160.8 2711.9 1157.8 2713.8 1148.2 2715.1 1138.4 2716.4 1129.1 2717.7 1134.6 2718.9 1145 2720.2 1143.3 2721.5 1141.8 2722.8 1133.8 2724 1125.9 2726.3 1148.2 2728.5 1154.6 2729.8 1168.6 2731 1176.9 2732.6 1182.6 2734.2 1180.1 2735.8 1178.2 2737.4 1176.9 2738.7 1173.6 2740 1173.7 2741.2 1157.6 2742.5 1141.8 2744.4 1122.7 2745.7 1119.8 2747 1119.5 2748.3 1113.1 2749.5 1109.9 2750.8 1104.2 2752.1 1098.8 2753.4 1102.1 2754.6 1109.9 2755.9 1120.8 2757.2 1129.1 2758.5 1138.4 2759.7 1148.2 2761 1155.1 2762.3 1161 2763.9 1165.4 2765.5 1170.5 2766.8 1164.2 2768 1161 2769.3 1146.1 2770.6 1135.5 2771.9 1127 2773.1 1119.5 2774.4 1119.1 2775.7 1121.1 2777 1119.2 2778.2 1116.3 2780.5 1132.3 2782.7 1135.5 2784 1130.7 2785.3 1125.9 2786.5 1130.9 2787.8 1141.8 2789.1 1137.2 2790.4 1132.3 2791.6 1126.1 2792.9 1125.9 2794.8 1148.2 2796.1 1150 2797.4 1154.6 2798.6 1153.9 2799.9 1154.6 2801.2 1137.3 2802.5 1129.1 2803.8 1116.5 2805 1103.6 2806.3 1086.4 2807.6 1068.5 2808.9 1066.6 2810.1 1065.3 2811.4 1062.8 2812.7 1062.1 2814 1078.8 2815.2 1097.2 2816.5 1112.6 2817.8 1132.3 2819.1 1136.5 2820.3 1141.8 2821.6 1143.8 2822.9 1148.2 2824.2 1140.4 2825.4 1132.3 2826.9 1116.9 2828.3 1106.8 2830.5 1090.8 2831.8 1085 2833.1 1078.1 2834.4 1081.6 2835.6 1084.4 2836.9 1095.3 2838.2 1106.8 2839.5 1105.8 2840.7 1106.8 2842 1112.8 2843.3 1116.3 2844.6 1115.9 2845.8 1122.7 2847.8 1141.8 2849 1144.4 2850.3 1145 2851.6 1147.2 2852.9 1148.2 2854.1 1147.2 2855.4 1145 2856.7 1144.3 2858 1141.8 2859.2 1130.8 2860.5 1122.7 2861.8 1114.2 2863.1 1106.8 2864.3 1101.8 2865.6 1094 2866.9 1094.2 2868.2 1092.4 2869.8 1093.7 2871.4 1094 2872.6 1097.1 2873.9 1106.8 2875.2 1115.9 2876.5 1122.7 2877 1116.3 2878.3 1131.7 2879.6 1141.8 2881.2 1152 2882.8 1157.8 2884 1163.1 2885.3 1167.3 2886.6 1154.4 2887.9 1148.2 2889.3 1140.7 2890.7 1129.1 2892.3 1125.6 2893.9 1122.7 2895.5 1115.5 2897.1 1119.5 2898.7 1125.1 2900.3 1129.1 2901.9 1132.2 2903.5 1141.8 2905.1 1147 2906.7 1157.8 2908.3 1158 2909.9 1161 2911.5 1165.4 2913 1164.2 2914.6 1168.1 2916.2 1173.7 2918.5 1167.3 2919.7 1163.2 2921 1157.8 2922.3 1161.6 2923.6 1157.8 2924.8 1153.3 2926.1 1141.8 2927.4 1116.3 2929.3 1108.4 2931.2 1129.1 2933.1 1138.6 2935.4 1145 2937.6 1199.2 2939.2 1200.6 2940.8 1202.4 2942.1 1203.5 2943.3 1205.6 2945.3 1213.6 2946.5 1200.4 2947.8 1192.9 2949.7 1176.9 2951 1175.4 2952.3 1176.9 2954.5 1180.1 2956.1 1177.8 2957.7 1173.7 2959.9 1189.7 2961.2 1195.3 2962.5 1199.2 2963.8 1193.1 2965 1186.5 2966.3 1187.1 2967.6 1183.3 2968.9 1189.6 2970.1 1199.2 2971.4 1191.1 2972.7 1183.3 2974 1183.3 2975.2 1180.1 2976.5 1186.2 2977.8 1189.7 2979.1 1187.2 2980.3 1180.1 2981.6 1179.4 2982.9 1176.9 2984.2 1174.6 2985.4 1173.7 2986.7 1172.9 2988 1170.5 2989.3 1171.5 2990.5 1176.9 2991.8 1173.3 2993.1 1176.9 2994.4 1181.4 2995.6 1183.3 2996.9 1189.5 2998.2 1196 2999.5 1187.2 3000.7 1176.9 3002 1168.4 3003.3 1167.3 3005.5 1157.8 3007.8 1153 3009 1156.2 3010.3 1161 3011.6 1164.4 3012.9 1170.5 3014.1 1168.6 3015.4 1170.5 3016.7 1165.6 3018 1170.5 3019.2 1165 3020.5 1161 3021.8 1159.8 3023.1 1154.6 3024.3 1149.1 3025.6 1141.8 3026.9 1135.7 3028.2 1132.3 3029.4 1135.4 3030.7 1138.6 3032 1145.1 3033.3 1148.2 3034.5 1137.4 3035.8 1138.6 3037.1 1149.5 3038.4 1161 3039.6 1157.4 3040.9 1151.4 3042.2 1146.5 3043.5 1138.6 3044.7 1140.8 3046 1135.5 3047.3 1141.1 3048.6 1141.8 3049.8 1137.7 3051.1 1132.3 3052.4 1131.3 3053.7 1129.1 3054.9 1134 3056.2 1135.5 3057.5 1135.9 3058.8 1138.6 3060.1 1130.6 3061.3 1122.7 3062.6 1123.1 3063.9 1119.5 3065.2 1122.2 3066.4 1116.3 3067.7 1114.4 3069 1113.1 3070.3 1114.6 3071.5 1116.3 3072.8 1120 3074.1 1122.7 3075.4 1127.3 3076.6 1125.9 3077.9 1124.2 3079.2 1122.7 3081.1 1109.9 3082.4 1111.6 3083.6 1106.8 3084.9 1106.2 3086.2 1109.9 3087.5 1106.4 3088.8 1103.6 3090 1100.7 3091.3 1098.8 3092.6 1098.1 3093.9 1094 3095.1 1091.5 3096.4 1084.4 3097.7 1079.5 3099 1081.2 3100.2 1080.8 3101.5 1084.4 3102.8 1088.4 3104.1 1090.8 3105.3 1098.9 3106.6 1109.9 3107.9 1118.6 3109.2 1133.9 3110.4 1135.4 3111.7 1132.3 3113 1131.8 3114.3 1129.1 3115.5 1120.6 3116.8 1109.9 3118.1 1094.6 3119.4 1081.2 3120.6 1081.9 3121.9 1078.1 3123.2 1080.7 3124.5 1084.4 3125.7 1083.7 3127 1078.1 3128.3 1082.4 3129.6 1090.8 3130.8 1098.5 3132.1 1109.9 3133.4 1116.8 3134.7 1122.7 3135.9 1121.2 3137.2 1122.7 3138.5 1119.4 3139.8 1113.1 3141 1107.3 3142.3 1100.4 3143.6 1090.4 3144.9 1084.4 3146.8 1078.1 3148.7 1087.6 3150 1092.6 3151.2 1097.2 3152.5 1098 3153.8 1100.4 3155.1 1112 3156.4 1119.5 3157.6 1124.5 3158.9 1132.3 3160.2 1132.9 3161.5 1135.5 3163.4 1148.2 3164.6 1154.9 3165.9 1156.2 3167.2 1160.3 3168.5 1154.6 3169.7 1159 3171 1154.6 3172.3 1156.3 3173.6 1157.8 3174.8 1151.9 3176.1 1145 3177.4 1145.2 3178.7 1138.6 3179.9 1133.6 3181.2 1129.1 3182.5 1122.2 3183.8 1119.5 3185.1 1126.1 3186.3 1132.3 3187.6 1139.6 3188.9 1145 3190.2 1144.8 3191.4 1148.2 3193.3 1176.9 3195.3 1205.6 3196.5 1202 3197.8 1205.6 3199.1 1205.6 3200.4 1212 3201.6 1215 3202.9 1215.2 3204.2 1207.1 3205.5 1202.4 3206.7 1197.3 3208 1192.9 3209.3 1186.9 3210.6 1180.1 3211.8 1176.7 3213.1 1170.5 3214.4 1176.2 3215.7 1183.3 3216.9 1186 3218.2 1186.5 3219.5 1187.7 3220.8 1192.9 3222 1198.4 3223.3 1205.6 3224.6 1209.7 3225.9 1218.4 3227.1 1217.7 3228.4 1212 3229.7 1208.7 3231 1205.6 3232.2 1197.6 3233.5 1192.9 3234.8 1188.9 3236.1 1186.5 3237.3 1184.4 3238.6 1183.3 3239.9 1184.8 3241.2 1183.3 3242.4 1184.6 3243.7 1192.9 3245 1197 3246.3 1205.6 3247.6 1206.4 3248.8 1208.8 3250.1 1219.2 3251.4 1218.4 3252.7 1222.1 3253.9 1221.6 3255.2 1213.3 3256.5 1205.6 3257.8 1218.3 3259 1227.9 3260.3 1229.3 3261.6 1221.6 3262.9 1216.3 3264.1 1212 3265.4 1208 3266.7 1205.6 3268 1198.7 3269.2 1186.5 3270.5 1182.8 3271.8 1176.9 3273.1 1180 3274.3 1180.1 3275.6 1175.8 3276.9 1173.7 3278.2 1181.1 3279.4 1180.1 3280.7 1193.4 3282 1199.2 3283.3 1203.7 3284.5 1205.6 3286 1202.4 3287.4 1196.1 3288.7 1190.1 3290 1192.9 3291.2 1200.7 3292.5 1205.7 3293.8 1190.9 3295.1 1177 3296.3 1174.8 3297.6 1170.6 3298.9 1170.5 3300.2 1167.4 3301.8 1163.5 3303.4 1161 3304.6 1154.1 3305.9 1154.7 3307.2 1160.3 3308.5 1164.2 3310.1 1164.2 3311.7 1167.4 3312.9 1163.5 3314.2 1161 3316.1 1145.1 3317.7 1145.4 3319.3 1148.3 3320.6 1141.2 3321.9 1135.5 3323.1 1124.1 3324.4 1122.8 3325.7 1110 3327 1114.3 3328.2 1113.2 3329.5 1109 3330.8 1103.6 3332.7 1100.4 3334 1110.9 3335.3 1116.4 3336.5 1125.5 3337.8 1126 3339.1 1127.6 3340.4 1129.1 3341.6 1128.4 3342.9 1135.5 3344.2 1134.4 3345.5 1137.1 3346.7 1128.9 3348 1126 3349.3 1120.1 3350.6 1116.4 3351.9 1110.2 3353.1 1103.6 3355 1087.7 3357 1084.5 3358.2 1083.3 3359.5 1090.9 3360.8 1093.2 3362.1 1094.1 3363.3 1093.9 3364.6 1100.4 3365.9 1097.9 3367.2 1094.1 3368.4 1095.4 3369.7 1097.2 3371 1095 3372.3 1094.1 3373.5 1090.7 3374.8 1087.7 3376.7 1071.7 3378.6 1059 3379.9 1057.8 3381.2 1059 3382.5 1059.2 3383.7 1062.2 3385 1056.9 3386.3 1059 3387.6 1066.9 3388.9 1074.9 3390.8 1094.1 3392 1099.7 3393.3 1097.2 3394.6 1100 3395.9 1094.1 3397.1 1090.6 3398.4 1081.3 3400.3 1068.5 3401.6 1068.5 3402.9 1065.4 3404.2 1067.1 3405.4 1071.7 3406.7 1074.9 3408 1071.7 3409.3 1076.4 3410.5 1081.3 3412.5 1087.7 3414.4 1103.6 3416.3 1113.2 3417.6 1113.8 3418.8 1114.8 3420.1 1108.6 3421.4 1103.6 3423.3 1090.9 3424.6 1086.3 3425.9 1081.3 3427.1 1083.5 3428.4 1087.7 3429.7 1084.3 3431 1081.3 3432.2 1083.7 3433.5 1090.9 3434.8 1093.2 3436.1 1097.2 3437.3 1105.5 3438.6 1103.6 3440.5 1116.4 3441.8 1116.2 3443.1 1116.4 3444.4 1112.7 3445.6 1110 3446.9 1114.4 3448.2 1116.4 3449.5 1117.9 3450.7 1116.4 3452 1115.5 3453.3 1119.6 3455.2 1138.7 3456.5 1143 3457.8 1148.3 3459 1153.5 3460.3 1154.7 3462.2 1170.6 3463.5 1174.4 3464.8 1177 3466 1170.9 3467.3 1164.2 3468.6 1166.1 3469.9 1161 3471.1 1156.4 3472.4 1154.7 3473.7 1145.3 3475 1135.5 3476.3 1144 3477.5 1154.7 3478.8 1165.9 3480.1 1170.6 3481.4 1169.5 3482.6 1177 3483.9 1188.3 3485.2 1202.5 3486.5 1207.7 3487.7 1215.3 3489.3 1218.3 3490.9 1218.5 3492.2 1215 3493.5 1208.9 3494.8 1208.8 3496 1202.5 3497.3 1195.9 3498.6 1196.1 3499.9 1191.4 3501.1 1183.4 3502.4 1184.3 3503.7 1186.6 3505 1191.5 3506.2 1199.3 3507.5 1210.1 3508.8 1218.5 3510.1 1219.6 3511.3 1224.8 3512.6 1226.7 3513.9 1237.6 3515.2 1240 3516.4 1244 3517.7 1237.5 3519 1237.6 3520.3 1233 3521.5 1231.2 3522.8 1230.4 3524.1 1228 3525.4 1227.1 3526.7 1224.8 3527.9 1233.1 3529.2 1234.4 3530.5 1229.2 3531.8 1224.8 3533 1219.9 3534.3 1221.7 3535.6 1228 3536.9 1237.6 3538.1 1229.2 3539.4 1224.8 3540.7 1215.8 3542 1212.1 3543.2 1209.8 3544.5 1205.7 3545.8 1205.9 3547.1 1208.9 3548.3 1215.7 3549.6 1231.2 3551.2 1232.8 3552.8 1231.2" stroke="#0000ff" stroke-width="6.25" fill="none" stroke-linejoin="round" stroke-linecap="square"/>
<rect x="302.6" y="856.4" width="3250" height="582" fill="none" stroke="#000" stroke-width="3.333"/>
<path d="M302.6 1438.4v14.58M872.6 1438.4v14.58M1442.6 1438.4v14.58M2012.6 1438.4v14.58M2582.6 1438.4v14.58M3152.6 1438.4v14.58M302.6 987.3h-14.58M302.6 1147.5h-14.58M302.6 1307.7h-14.58" stroke="#000" stroke-width="3.333" fill="none"/>
<g font-family="DejaVu Sans, sans-serif" font-size="41.667" fill="#000">
<text x="302.6" y="1498.4" text-anchor="middle">0</text>
<text x="872.6" y="1498.4" text-anchor="middle">10</text>
<text x="1442.6" y="1498.4" text-anchor="middle">20</text>
<text x="2012.6" y="1498.4" text-anchor="middle">30</text>
<text x="2582.6" y="1498.4" text-anchor="middle">40</text>
<text x="3152.6" y="1498.4" text-anchor="middle">50</text>
<text x="272.9" y="1002.5" text-anchor="end">0.005</text>
<text x="272.9" y="1162.7" text-anchor="end">0.000</text>
<text x="272.9" y="1322.9" text-anchor="end">−0.005</text>
</g>
<g font-family="DejaVu Sans, sans-serif" font-size="58.333" fill="#000">
<text x="1927.6" y="1569" text-anchor="middle" textLength="239.2" lengthAdjust="spacing">Time (s)</text>
<text transform="translate(89.4 1147.9) rotate(-90)" text-anchor="middle" textLength="436.1" lengthAdjust="spacing">Velocity (cm/s)</text>
</g>
<clipPath id="c2"><rect x="302.6" y="1631.4" width="3250" height="581.1"/></clipPath>
<path d="M302.6 1631.4V2212.5M872.6 1631.4V2212.5M1442.6 1631.4V2212.5M2012.6 1631.4V2212.5M2582.6 1631.4V2212.5M3152.6 1631.4V2212.5M302.6 1667.4H3552.6M302.6 1794.6H3552.6M302.6 1921.8H3552.6M302.6 2049H3552.6M302.6 2176.2H3552.6" stroke="#b0b0b0" stroke-width="3.333" fill="none"/>
<path clip-path="url(#c2)" d="M302.6 1904.8L304.1 1904.6 305.6 1902.1 307.1 1898.2 308.6 1895.1 310.1 1894.4 311.6 1895.8 313.1 1898.5 314.6 1901.9 316.1 1905.4 317.6 1909.6 319.1 1915.2 320.6 1919.3 322.1 1920.6 323.6 1921.5 325.1 1922.1 326.6 1922.6 328.1 1922.8 329.6 1922.8 331.1 1922.8 332.6 1923.4 334.1 1925.4 335.6 1928.1 337.1 1931.5 338.6 1936.1 340.1 1940.1 341.6 1942.6 343.1 1944.7 344.6 1945.8 346.1 1945.1 347.6 1942.6 349.1 1940.4 350.6 1939.5 352.1 1938.8 353.6 1938.4 355.1 1938.5 356.6 1939.1 358.1 1940 359.6 1941.1 361.1 1943.3 362.6 1947.3 364.1 1950.2 365.6 1950.6 367.1 1950.9 368.6 1951.1 370.1 1951.2 371.6 1951.2 373.1 1950.3 374.6 1947.6 376.1 1945.4 377.6 1945 379.1 1944.8 380.6 1944.5 382.1 1943.1 383.6 1940.3 385.1 1938.4 386.6 1938.4 388.1 1938.4 389.6 1938.4 391.1 1938 392.6 1936.7 394.1 1935.1 395.6 1933.1 397.1 1930.4 398.6 1928.8 400.1 1928.8 401.6 1928.9 403.1 1929.1 404.6 1929.3 406.1 1929.9 407.6 1931 409.1 1932 410.6 1932.2 412.1 1929.3 413.6 1925.6 415.1 1923.9 416.6 1922.5 418.1 1919.2 419.6 1909.3 421.1 1899.8 422.6 1895.3 424.1 1891.4 425.6 1888.3 427.1 1886.4 428.6 1886 430.1 1887 431.6 1888.8 433.1 1890.5 434.6 1891.9 436.1 1893.4 437.6 1894.6 439.1 1895.2 440.6 1894.8 442.1 1893.2 443.6 1890.8 445.1 1887.8 446.6 1884.4 448.1 1878.9 449.6 1872.4 451.1 1869.2 452.6 1866.4 454.1 1864.3 455.6 1863 457.1 1863 458.6 1863.8 460.1 1865.1 461.6 1866.3 463.1 1867.3 464.6 1868.4 466.1 1869.3 467.6 1869.7 469.1 1868.5 470.6 1865.9 472.1 1865 473.6 1865.4 475.1 1866.2 476.6 1867.2 478.1 1868.1 479.6 1868.8 481.1 1869.1 482.6 1869.5 484.1 1869.8 485.6 1870 487.1 1870 488.6 1870 490.1 1869.8 491.6 1869.6 493.1 1869.4 494.6 1871.6 496.1 1877.4 497.6 1883.3 499.1 1887.1 500.6 1890.3 502.1 1893.7 503.6 1898.2 505.1 1906.8 506.6 1916.2 508.1 1920.7 509.6 1924.4 511.1 1927.1 512.6 1928.2 514.1 1927.8 515.6 1926.7 517.1 1925.2 518.6 1923.7 520.1 1922.4 521.6 1921.9 523.1 1922.8 524.6 1925.1 526.1 1929.9 527.6 1936.6 529.1 1943.2 530.6 1949.6 532.1 1956.7 533.6 1963 535.1 1967.5 536.6 1969.9 538.1 1971.7 539.6 1973 541.1 1973.9 542.6 1974.5 544.1 1975.1 545.6 1976 547.1 1978.9 548.6 1983.9 550.1 1988.4 551.6 1991.7 553.1 1994.9 554.6 1997.8 556.1 1999.8 557.6 2000.7 559.1 2000.4 560.6 1999.5 562.1 1998.3 563.6 1997.2 565.1 1996.4 566.6 1996.2 568.1 1996.9 569.6 1997.9 571.1 1999.1 572.6 2000.6 574.1 2002.6 575.6 2004.4 577.1 2005.2 578.6 2004.3 580.1 2001.7 581.6 1998.3 583.1 1994.9 584.6 1991.3 586.1 1987 587.6 1982.9 589.1 1979.8 590.6 1977.9 592.1 1976.3 593.6 1975 595.1 1973.7 596.6 1972.3 598.1 1970.9 599.6 1969.6 601.1 1967.8 602.6 1964.9 604.1 1960.7 605.6 1955.8 607.1 1951 608.6 1946.9 610.1 1943.2 611.6 1939.4 613.1 1936 614.6 1933.3 616.1 1931.8 617.6 1931.3 619.1 1931.1 620.6 1930.8 622.1 1930.3 623.6 1927.7 625.1 1922.6 626.6 1916.9 628.1 1911.3 629.6 1905 631.1 1897.4 632.6 1888.9 634.1 1881.9 635.6 1878.4 637.1 1876 638.6 1874.1 640.1 1872.9 641.6 1872.4 643.1 1872.9 644.6 1873.9 646.1 1875 647.6 1875.4 649.1 1875 650.6 1873.7 652.1 1872.1 653.6 1870.4 655.1 1868.8 656.6 1867.4 658.1 1865.8 659.6 1864.1 661.1 1862.7 662.6 1861.7 664.1 1861.4 665.6 1862 667.1 1863.7 668.6 1865.9 670.1 1869.3 671.6 1874.2 673.1 1879.1 674.6 1882.3 676.1 1884.2 677.6 1885.9 679.1 1887 680.6 1887.4 682.1 1887.1 683.6 1886.4 685.1 1885.6 686.6 1885.3 688.1 1887.6 689.6 1889.8 691.1 1889.8 692.6 1889.8 694.1 1889.8 695.6 1889.8 697.1 1889.2 698.6 1888 700.1 1886.8 701.6 1886.2 703.1 1886.7 704.6 1888.1 706.1 1890 707.6 1892.8 709.1 1899.6 710.6 1909.1 712.1 1919.6 713.6 1929.1 715.1 1939 716.6 1949.8 718.1 1958.4 719.6 1961.7 721.1 1961.5 722.6 1960.9 724.1 1959.9 725.6 1958.7 727.1 1954.3 728.6 1946.2 730.1 1936.7 731.6 1928.4 733.1 1920.2 734.6 1915.2 736.1 1914.1 737.6 1913.4 739.1 1913.2 740.6 1913.9 742.1 1915.6 743.6 1919.1 745.1 1929 746.6 1938.1 748.1 1944.7 749.6 1950.1 751.1 1952.1 752.6 1951 754.1 1949.2 755.6 1948.3 757.1 1949.9 758.6 1951.2 760.1 1949.3 761.6 1946 763.1 1943.7 764.6 1942.9 766.1 1942.4 767.6 1941.6 769.1 1939.4 770.6 1935.8 772.1 1931.4 773.6 1923.7 775.1 1915.7 776.6 1913.3 778.1 1912.5 779.6 1912.3 781.1 1912.3 782.6 1912.3 784.1 1912.4 785.6 1920 787.1 1929.3 788.6 1934.9 790.1 1939.3 791.6 1941.9 793.1 1944.1 794.6 1945.6 796.1 1946 797.6 1935.7 799.1 1921.7 800.6 1910.1 802.1 1899.3 803.6 1892.3 805.1 1888 806.6 1885.5 808.1 1886 809.6 1888.4 811.1 1891.7 812.6 1896.3 814.1 1902.4 815.6 1908.5 817.1 1915.5 818.6 1922.4 820.1 1925.9 821.6 1927.1 823.1 1927.9 824.6 1928.2 826.1 1928.2 827.6 1928.2 829.1 1928.2 830.6 1928.2 832.1 1928.2 833.6 1930.7 835.1 1932.3 836.6 1930.7 838.1 1927.4 839.6 1923.8 841.1 1918.8 842.6 1913 844.1 1909 845.6 1908.7 847.1 1910.2 848.6 1912.7 850.1 1917.9 851.6 1926.1 853.1 1935.7 854.6 1945.1 856.1 1957 857.6 1969.9 859.1 1978.6 860.6 1979.3 862.1 1976.9 863.6 1973 865.1 1961.3 866.6 1942.7 868.1 1923.2 869.6 1909.1 871.1 1897.8 872.6 1887.7 874.1 1881.6 875.6 1881 877.1 1882.2 878.6 1884.3 880.1 1890.7 881.6 1900.4 883.1 1909 884.6 1917.4 886.1 1924.8 887.6 1927.3 889.1 1926.8 890.6 1925.6 892.1 1923.9 893.6 1917.6 895.1 1907.1 896.6 1895.1 898.1 1877.8 899.6 1864.3 901.1 1855.8 902.6 1849.7 904.1 1847.9 905.6 1848.4 907.1 1849.6 908.6 1851.3 910.1 1857.2 911.6 1865.4 913.1 1871 914.6 1874.8 916.1 1878.2 917.6 1880.8 919.1 1882.2 920.6 1881.6 922.1 1878.1 923.6 1872.9 925.1 1867.9 926.6 1862.2 928.1 1856.3 929.6 1851.6 931.1 1847.4 932.6 1843.5 934.1 1840.2 935.6 1838 937.1 1837.4 938.6 1838.3 940.1 1840 941.6 1842.5 943.1 1849.6 944.6 1860.8 946.1 1873.1 947.6 1883.5 949.1 1889 950.6 1891.9 952.1 1893.9 953.6 1895.1 955.1 1896.1 956.6 1896.4 958.1 1895.4 959.6 1893 961.1 1887.6 962.6 1879.1 964.1 1876.8 965.6 1875.3 967.1 1874.9 968.6 1878.7 970.1 1884.2 971.6 1888.1 973.1 1893.6 974.6 1905.1 976.1 1906.4 977.6 1908.3 979.1 1923.7 980.6 1925.6 982.1 1925.1 983.6 1924.5 985.1 1924.3 986.6 1924.5 988.1 1925 989.6 1925.9 991.1 1927.9 992.6 1933.8 994.1 1938.1 995.6 1941.1 997.1 1944.1 998.6 1948.1 1000.1 1951 1001.6 1950.6 1003.1 1948 1004.6 1944.9 1006.1 1940.5 1007.6 1935.6 1009.1 1933.2 1010.6 1932.4 1012.1 1931.9 1013.6 1931.9 1015.1 1938.9 1016.6 1947.5 1018.1 1952.7 1019.6 1957.4 1021.1 1962.4 1022.6 1968.4 1024.1 1974.5 1025.6 1980.4 1027.1 1986.6 1028.6 1994.6 1030.1 1995.7 1031.6 1992.8 1033.1 1987.8 1034.6 1974.9 1036.1 1963.9 1037.6 1954.2 1039.1 1948.6 1040.6 1954.2 1042.1 1961.6 1043.6 1955.4 1045.1 1951.5 1046.6 1963.5 1048.1 1974.4 1049.6 1977.4 1051.1 1979.6 1052.6 1983.8 1054.1 2000.3 1055.6 2009.5 1057.1 2002.7 1058.6 1998.3 1060.1 2000.1 1061.6 2002.7 1063.1 2003.4 1064.6 1992.2 1066.1 1979.9 1067.6 1971.8 1069.1 1965.7 1070.6 1962.1 1072.1 1959.1 1073.6 1957.4 1075.1 1963 1076.6 1976 1078.1 1978.9 1079.6 1981.9 1081.1 1986.5 1082.6 1993.2 1084.1 2008.2 1085.6 2015.7 1087.1 2015.4 1088.6 2014.8 1090.1 2014 1091.6 2012.3 1093.1 2008.5 1094.6 1990.9 1096.1 1974.9 1097.6 1966.7 1099.1 1960.3 1100.6 1954.7 1102.1 1948.6 1103.6 1944.3 1105.1 1944.9 1106.6 1950.5 1108.1 1956.8 1109.6 1962.3 1111.1 1969 1112.6 1979.8 1114.1 2005.3 1115.6 2014.1 1117.1 2018.9 1118.6 2022.3 1120.1 2025.4 1121.6 2027.5 1123.1 2025.8 1124.6 2017.5 1126.1 2007.8 1127.6 1996.8 1129.1 1987 1130.6 1978 1132.1 1970 1133.6 1965.2 1135.1 1964.9 1136.6 1965.9 1138.1 1967.4 1139.6 1969.5 1141.1 1972.9 1142.6 1981.6 1144.1 1992.4 1145.6 1995 1147.1 1996.4 1148.6 1996.7 1150.1 1995.1 1151.6 1991.9 1153.1 1987.6 1154.6 1979.2 1156.1 1967.7 1157.6 1956.2 1159.1 1943.1 1160.6 1930.1 1162.1 1921.2 1163.6 1915 1165.1 1911.9 1166.6 1910.4 1168.1 1909.5 1169.6 1909.5 1171.1 1913.8 1172.6 1921.3 1174.1 1928.5 1175.6 1932.2 1177.1 1933.6 1178.6 1935.5 1180.1 1940.2 1181.6 1942 1183.1 1937.1 1184.6 1928.9 1186.1 1921 1187.6 1913.3 1189.1 1905.2 1190.6 1896.6 1192.1 1887.1 1193.6 1877.7 1195.1 1869.5 1196.6 1861.8 1198.1 1855.9 1199.6 1852.2 1201.1 1849 1202.6 1846.9 1204.1 1846.4 1205.6 1848.1 1207.1 1851.1 1208.6 1855.2 1210.1 1864.1 1211.6 1873.8 1213.1 1877.5 1214.6 1878.3 1216.1 1878.9 1217.6 1879.3 1219.1 1878.9 1220.6 1872 1222.1 1863.8 1223.6 1856.3 1225.1 1848.2 1226.6 1839.1 1228.1 1827.6 1229.6 1818.9 1231.1 1812.1 1232.6 1807.2 1234.1 1805.9 1235.6 1805.9 1237.1 1805.9 1238.6 1806.2 1240.1 1811.3 1241.6 1818.8 1243.1 1825.7 1244.6 1833.5 1246.1 1840.9 1247.6 1846.2 1249.1 1850.9 1250.6 1855 1252.1 1857.7 1253.6 1858.2 1255.1 1855.6 1256.6 1851.2 1258.1 1846.4 1259.6 1840.6 1261.1 1833.7 1262.6 1825.8 1264.1 1814.8 1265.6 1804.2 1267.1 1798.9 1268.6 1796.1 1270.1 1794.3 1271.6 1794.2 1273.1 1798.8 1274.6 1806.5 1276.1 1817.7 1277.6 1834.6 1279.1 1848.9 1280.6 1862.4 1282.1 1874.9 1283.6 1883.4 1285.1 1885.2 1286.6 1884 1288.1 1881.5 1289.6 1877.4 1291.1 1864.4 1292.6 1847.6 1294.1 1835.6 1295.6 1825.6 1297.1 1818.1 1298.6 1816.6 1300.1 1819.9 1301.6 1825.6 1303.1 1832.3 1304.6 1842.5 1306.1 1854.8 1307.6 1866.9 1309.1 1879.8 1310.6 1892.2 1312.1 1901.8 1313.6 1910.1 1315.1 1912.1 1316.6 1909.3 1318.1 1904.9 1319.6 1900.2 1321.1 1894.4 1322.6 1887.9 1324.1 1881.7 1325.6 1874.9 1327.1 1868.8 1328.6 1864.6 1330.1 1861.1 1331.6 1858 1333.1 1855.6 1334.6 1854.1 1336.1 1854.1 1337.6 1857.1 1339.1 1862.2 1340.6 1868.1 1342.1 1876.7 1343.6 1886.7 1345.1 1896.2 1346.6 1906.5 1348.1 1915.7 1349.6 1921.6 1351.1 1926.2 1352.6 1928.7 1354.1 1928.1 1355.6 1925.9 1357.1 1922.9 1358.6 1918 1360.1 1911.5 1361.6 1905.8 1363.1 1899.8 1364.6 1895.3 1366.1 1894.4 1367.6 1895.9 1369.1 1898.6 1370.6 1902.3 1372.1 1906.9 1373.6 1915.9 1375.1 1926.5 1376.6 1934.5 1378.1 1941.2 1379.6 1947 1381.1 1951.4 1382.6 1955.5 1384.1 1959.1 1385.6 1961.3 1387.1 1961.6 1388.6 1960.4 1390.1 1958.5 1391.6 1956.4 1393.1 1953.5 1394.6 1950.1 1396.1 1946.9 1397.6 1943 1399.1 1939.9 1400.6 1939.3 1402.1 1939.6 1403.6 1940.3 1405.1 1941.4 1406.6 1942.8 1408.1 1945.1 1409.6 1952.4 1411.1 1962.3 1412.6 1971.3 1414.1 1980.4 1415.6 1989.6 1417.1 1998.6 1418.6 2009 1420.1 2017.1 1421.6 2018.4 1423.1 2016.2 1424.6 2012.4 1426.1 2006.6 1427.6 1993.6 1429.1 1979.3 1430.6 1970.9 1432.1 1964.5 1433.6 1959.4 1435.1 1956.3 1436.6 1956.5 1438.1 1962.4 1439.6 1971.5 1441.1 1981.1 1442.6 1994.1 1444.1 2007.1 1445.6 2016.3 1447.1 2024.2 1448.6 2029.7 1450.1 2030.1 1451.6 2025.9 1453.1 2019.4 1454.6 2012.4 1456.1 2002.9 1457.6 1993.1 1459.1 1985.5 1460.6 1978.3 1462.1 1973.1 1463.6 1972.5 1465.1 1975 1466.6 1978.9 1468.1 1983.5 1469.6 1990.3 1471.1 1997.5 1472.6 2002.9 1474.1 2007.6 1475.6 2011.3 1477.1 2013.6 1478.6 2014.9 1480.1 2016.2 1481.6 2018.7 1483.1 2023.3 1484.6 2025.1 1486.1 2025.8 1487.6 2026.1 1489.1 2026 1490.6 2024.4 1492.1 2021.8 1493.6 2017.9 1495.1 2009.8 1496.6 2001.5 1498.1 1995.7 1499.6 1990.8 1501.1 1986.8 1502.6 1983.4 1504.1 1983.5 1505.6 1988.7 1507.1 1995.5 1508.6 2001.9 1510.1 2009.1 1511.6 2016.6 1513.1 2024.6 1514.6 2026.2 1516.1 2026.2 1517.6 2026.2 1519.1 2020.4 1520.6 2007 1522.1 1995.5 1523.6 1984.9 1525.1 1974.2 1526.6 1962.8 1528.1 1955.3 1529.6 1951.2 1531.1 1948.1 1532.6 1946.8 1534.1 1949.2 1535.6 1954.8 1537.1 1959 1538.6 1960.9 1540.1 1962.4 1541.6 1963.8 1543.1 1966 1544.6 1969.3 1546.1 1971.8 1547.6 1972.2 1549.1 1971.7 1550.6 1970.9 1552.1 1969.8 1553.6 1968.2 1555.1 1964.9 1556.6 1960.7 1558.1 1956.7 1559.6 1952.5 1561.1 1948 1562.6 1943.2 1564.1 1937.8 1565.6 1931.5 1567.1 1925.3 1568.6 1920.2 1570.1 1915.4 1571.6 1911.7 1573.1 1910.1 1574.6 1909.1 1576.1 1908.5 1577.6 1908.9 1579.1 1911.8 1580.6 1915.4 1582.1 1918.3 1583.6 1920.9 1585.1 1919.8 1586.6 1911 1588.1 1898.4 1589.6 1885.6 1591.1 1869.4 1592.6 1853 1594.1 1839.9 1595.6 1828.3 1597.1 1818.8 1598.6 1812.8 1600.1 1808.1 1601.6 1805 1603.1 1805.1 1604.6 1810.8 1606.1 1818 1607.6 1822.4 1609.1 1825.8 1610.6 1828.8 1612.1 1831.2 1613.6 1832.6 1615.1 1832.4 1616.6 1828.6 1618.1 1822.3 1619.6 1815.4 1621.1 1809.3 1622.6 1802.6 1624.1 1796.5 1625.6 1792.4 1627.1 1788.9 1628.6 1785.7 1630.1 1783.1 1631.6 1781.3 1633.1 1780.5 1634.6 1781 1636.1 1782.8 1637.6 1785.6 1639.1 1788.8 1640.6 1792.2 1642.1 1795.4 1643.6 1799.6 1645.1 1804.3 1646.6 1808.7 1648.1 1812.2 1649.6 1814.2 1651.1 1815.8 1652.6 1817 1654.1 1817.8 1655.6 1817.9 1657.1 1817.6 1658.6 1817.2 1660.1 1816.7 1661.6 1816.4 1663.1 1816.6 1664.6 1818.3 1666.1 1821.2 1667.6 1824.9 1669.1 1828.9 1670.6 1835 1672.1 1842.5 1673.6 1850.1 1675.1 1857.2 1676.6 1865.1 1678.1 1872.7 1679.6 1878.8 1681.1 1882.2 1682.6 1884.9 1684.1 1886.9 1685.6 1888.1 1687.1 1887.7 1688.6 1883.5 1690.1 1877.6 1691.6 1872.4 1693.1 1866.8 1694.6 1861.8 1696.1 1858.3 1697.6 1855.4 1699.1 1853.1 1700.6 1852.4 1702.1 1855.8 1703.6 1862.4 1705.1 1869.2 1706.6 1877.3 1708.1 1885.8 1709.6 1893.7 1711.1 1901.7 1712.6 1908.5 1714.1 1912.6 1715.6 1915.9 1717.1 1918 1718.6 1918 1720.1 1916.1 1721.6 1913.5 1723.1 1911.1 1724.6 1908.7 1726.1 1906.1 1727.6 1903.2 1729.1 1899.2 1730.6 1896.3 1732.1 1896 1733.6 1897.4 1735.1 1899.9 1736.6 1903.1 1738.1 1907.4 1739.6 1915.3 1741.1 1924.6 1742.6 1933.1 1744.1 1941.8 1745.6 1949.7 1747.1 1955.9 1748.6 1961.8 1750.1 1965.7 1751.6 1966.2 1753.1 1965.8 1754.6 1965.1 1756.1 1963.8 1757.6 1960.6 1759.1 1956.9 1760.6 1954.7 1762.1 1952.7 1763.6 1951.4 1765.1 1952 1766.6 1956.1 1768.1 1962.1 1769.6 1968 1771.1 1975.4 1772.6 1982.8 1774.1 1988.8 1775.6 1994.3 1777.1 1999 1778.6 2002.7 1780.1 2006.1 1781.6 2007.3 1783.1 2006.3 1784.6 2004 1786.1 2000.8 1787.6 1995.7 1789.1 1984.9 1790.6 1974.7 1792.1 1970.5 1793.6 1967.8 1795.1 1965.9 1796.6 1964.9 1798.1 1965.3 1799.6 1968.3 1801.1 1972.8 1802.6 1977.5 1804.1 1984 1805.6 1991.5 1807.1 1997.6 1808.6 2000.7 1810.1 2002.9 1811.6 2004.6 1813.1 2005.2 1814.6 2004.4 1816.1 2002.1 1817.6 1999.1 1819.1 1995.1 1820.6 1988.6 1822.1 1981.9 1823.6 1977 1825.1 1972.5 1826.6 1969.6 1828.1 1969.4 1829.6 1970.3 1831.1 1971.6 1832.6 1972.8 1834.1 1973.6 1835.6 1974.4 1837.1 1975 1838.6 1975.2 1840.1 1974.3 1841.6 1972.5 1843.1 1970.2 1844.6 1967.5 1846.1 1963.3 1847.6 1958.9 1849.1 1955.8 1850.6 1953.7 1852.1 1952 1853.6 1950.6 1855.1 1949.8 1856.6 1949.8 1858.1 1950.1 1859.6 1950.3 1861.1 1950.2 1862.6 1949.6 1864.1 1948.6 1865.6 1947.3 1867.1 1945.8 1868.6 1944.1 1870.1 1941.3 1871.6 1938.6 1873.1 1936.5 1874.6 1934.5 1876.1 1932.8 1877.6 1931.9 1879.1 1932 1880.6 1933.1 1882.1 1934.9 1883.6 1937 1885.1 1939.6 1886.6 1943.5 1888.1 1946.5 1889.6 1946.8 1891.1 1946.8 1892.6 1946.8 1894.1 1946.8 1895.6 1946.3 1897.1 1944.3 1898.6 1941.6 1900.1 1939 1901.6 1935.8 1903.1 1933.5 1904.6 1933.3 1906.1 1933.3 1907.6 1933.3 1909.1 1934.2 1910.6 1937.9 1912.1 1942.5 1913.6 1946 1915.1 1949.8 1916.6 1953.1 1918.1 1955.4 1919.6 1956.2 1921.1 1956.7 1922.6 1957 1924.1 1957.2 1925.6 1956.8 1927.1 1954.9 1928.6 1952 1930.1 1949.1 1931.6 1946.6 1933.1 1943.8 1934.6 1941.4 1936.1 1939.7 1937.6 1938.1 1939.1 1937.2 1940.6 1937.7 1942.1 1939.8 1943.6 1942.8 1945.1 1946 1946.6 1950.5 1948.1 1955.3 1949.6 1959.3 1951.1 1962.1 1952.6 1964.6 1954.1 1966.1 1955.6 1964.9 1957.1 1959.2 1958.6 1952 1960.1 1944.8 1961.6 1936.4 1963.1 1928.1 1964.6 1920.7 1966.1 1912.7 1967.6 1905.9 1969.1 1902.1 1970.6 1902.4 1972.1 1904.8 1973.6 1908.2 1975.1 1912.6 1976.6 1919.7 1978.1 1927.4 1979.6 1933.6 1981.1 1937 1982.6 1939.8 1984.1 1940.7 1985.6 1937.1 1987.1 1930.6 1988.6 1924.4 1990.1 1917.4 1991.6 1910.3 1993.1 1904.2 1994.6 1898.3 1996.1 1892.6 1997.6 1888.3 1999.1 1886.8 2000.6 1888.2 2002.1 1891.2 2003.6 1894.8 2005.1 1899 2006.6 1904.9 2008.1 1910.2 2009.6 1912.8 2011.1 1914.1 2012.6 1915 2014.1 1915.3 2015.6 1914.3 2017.1 1912.4 2018.6 1909.9 2020.1 1905.6 2021.6 1900.2 2023.1 1895.3 2024.6 1890.2 2026.1 1884.8 2027.6 1880.3 2029.1 1878 2030.6 1878.2 2032.1 1879.7 2033.6 1881.9 2035.1 1884.6 2036.6 1888 2038.1 1893 2039.6 1897.8 2041.1 1901.7 2042.6 1905.5 2044.1 1907.7 2045.6 1906.9 2047.1 1903.8 2048.6 1899.8 2050.1 1895.5 2051.6 1890.1 2053.1 1884.9 2054.6 1880.6 2056.1 1876.4 2057.6 1873.7 2059.1 1872.7 2060.6 1872 2062.1 1871.5 2063.6 1871.2 2065.1 1871.2 2066.6 1871.2 2068.1 1871.2 2069.6 1870.8 2071.1 1869.2 2072.6 1866.8 2074.1 1864.1 2075.6 1860.9 2077.1 1856.6 2078.6 1851.9 2080.1 1846.8 2081.6 1841 2083.1 1836.5 2084.6 1834.1 2086.1 1832.1 2087.6 1830.6 2089.1 1829.9 2090.6 1830 2092.1 1830.6 2093.6 1831.3 2095.1 1831.9 2096.6 1832.3 2098.1 1831.9 2099.6 1830.3 2101.1 1828.1 2102.6 1825.9 2104.1 1823.3 2105.6 1819.8 2107.1 1816.7 2108.6 1815 2110.1 1815.2 2111.6 1816.2 2113.1 1817.6 2114.6 1819.8 2116.1 1823.6 2117.6 1827.8 2119.1 1831 2120.6 1832.8 2122.1 1834.4 2123.6 1835.6 2125.1 1835.8 2126.6 1832.8 2128.1 1827.6 2129.6 1823 2131.1 1820.2 2132.6 1817.5 2134.1 1815.4 2135.6 1814.3 2137.1 1815 2138.6 1817.2 2140.1 1820.3 2141.6 1825 2143.1 1832.8 2144.6 1841.7 2146.1 1849.6 2147.6 1856.4 2149.1 1863.6 2150.6 1869.4 2152.1 1872.4 2153.6 1872.2 2155.1 1871.4 2156.6 1870.6 2158.1 1870.3 2159.6 1870.3 2161.1 1870.3 2162.6 1870.3 2164.1 1870.3 2165.6 1871.8 2167.1 1876.6 2168.6 1883.6 2170.1 1891.5 2171.6 1901.6 2173.1 1915.3 2174.6 1927.3 2176.1 1935.5 2177.6 1943 2179.1 1949.5 2180.6 1954.7 2182.1 1958.3 2183.6 1960.7 2185.1 1962.6 2186.6 1964.1 2188.1 1964.7 2189.6 1964.7 2191.1 1964.7 2192.6 1964.7 2194.1 1964.7 2195.6 1965.8 2197.1 1969.1 2198.6 1973.8 2200.1 1979 2201.6 1984.7 2203.1 1991.9 2204.6 1999.6 2206.1 2007.7 2207.6 2016.4 2209.1 2023.8 2210.6 2029.5 2212.1 2034.3 2213.6 2037.8 2215.1 2040.3 2216.6 2042.3 2218.1 2043.2 2219.6 2042.3 2221.1 2039.6 2222.6 2036.7 2224.1 2035.2 2225.6 2035.2 2227.1 2035.2 2228.6 2035.2 2230.1 2037.2 2231.6 2042.6 2233.1 2047.8 2234.6 2050.7 2236.1 2053.4 2237.6 2055.7 2239.1 2057.2 2240.6 2057.6 2242.1 2056.5 2243.6 2054.3 2245.1 2051.7 2246.6 2049.2 2248.1 2047 2249.6 2044.5 2251.1 2042.4 2252.6 2041.2 2254.1 2041.6 2255.6 2043.2 2257.1 2045.2 2258.6 2046.9 2260.1 2047.9 2261.6 2048.9 2263.1 2049.7 2264.6 2050.1 2266.1 2049.5 2267.6 2047.3 2269.1 2044 2270.6 2040.4 2272.1 2036.6 2273.6 2031.7 2275.1 2026.6 2276.6 2022.4 2278.1 2019.3 2279.6 2016.3 2281.1 2013.9 2282.6 2012.7 2284.1 2012.7 2285.6 2012.7 2287.1 2012.7 2288.6 2012.7 2290.1 2012.5 2291.6 2010.2 2293.1 2006.3 2294.6 2001.7 2296.1 1995.9 2297.6 1988.1 2299.1 1980.9 2300.6 1975.9 2302.1 1971.7 2303.6 1968.3 2305.1 1965.6 2306.6 1963.3 2308.1 1961.9 2309.6 1961.4 2311.1 1961.1 2312.6 1960.8 2314.1 1960.6 2315.6 1960.3 2317.1 1959.9 2318.6 1959.4 2320.1 1958.9 2321.6 1958.2 2323.1 1957.4 2324.6 1956.3 2326.1 1954.7 2327.6 1952.7 2329.1 1950.2 2330.6 1947.3 2332.1 1943.3 2333.6 1937.2 2335.1 1930.6 2336.6 1925 2338.1 1921.2 2339.6 1917.8 2341.1 1914.8 2342.6 1912.1 2344.1 1909.7 2345.6 1907.5 2347.1 1905.6 2348.6 1903.9 2350.1 1902.2 2351.6 1900.6 2353.1 1899.1 2354.6 1897.8 2356.1 1896.4 2357.6 1894.6 2359.1 1892.1 2360.6 1888.7 2362.1 1884.9 2363.6 1881.4 2365.1 1878.1 2366.6 1874.8 2368.1 1871.7 2369.6 1869.2 2371.1 1867.2 2372.6 1865.6 2374.1 1864.2 2375.6 1863 2377.1 1862.1 2378.6 1861.5 2380.1 1860.9 2381.6 1860.3 2383.1 1859.4 2384.6 1857.8 2386.1 1855.1 2387.6 1852.1 2389.1 1849.5 2390.6 1848 2392.1 1847.4 2393.6 1847 2395.1 1846.7 2396.6 1846.5 2398.1 1846.4 2399.6 1846.5 2401.1 1846.8 2402.6 1847.1 2404.1 1847.3 2405.6 1846.8 2407.1 1845.1 2408.6 1842.8 2410.1 1840.2 2411.6 1837.7 2413.1 1835.1 2414.6 1832.2 2416.1 1829.3 2417.6 1827.1 2419.1 1825.5 2420.6 1824 2422.1 1822.9 2423.6 1822.4 2425.1 1823.4 2426.6 1826.3 2428.1 1829.9 2429.6 1832.7 2431.1 1834.5 2432.6 1836.3 2434.1 1837.7 2435.6 1838.3 2437.1 1837.8 2438.6 1836.3 2440.1 1834.3 2441.6 1832.1 2443.1 1830.1 2444.6 1828.1 2446.1 1825.7 2447.6 1823.4 2449.1 1821.7 2450.6 1820.9 2452.1 1821 2453.6 1821.3 2455.1 1821.7 2456.6 1822.3 2458.1 1824.3 2459.6 1828.6 2461.1 1833.8 2462.6 1838.5 2464.1 1842.7 2465.6 1847.1 2467.1 1851 2468.6 1853.7 2470.1 1855.4 2471.6 1856.8 2473.1 1857.5 2474.6 1856.9 2476.1 1855.2 2477.6 1853.1 2479.1 1851 2480.6 1848.9 2482.1 1846.3 2483.6 1843.9 2485.1 1842.2 2486.6 1841.9 2488.1 1842.4 2489.6 1843.4 2491.1 1844.8 2492.6 1848.1 2494.1 1853.9 2495.6 1859.6 2497.1 1864.4 2498.6 1869.5 2500.1 1873.7 2501.6 1876.3 2503.1 1877.4 2504.6 1878.3 2506.1 1878.9 2507.6 1879.3 2509.1 1879.2 2510.6 1878.1 2512.1 1876.7 2513.6 1875.4 2515.1 1874.8 2516.6 1874.9 2518.1 1875.2 2519.6 1875.7 2521.1 1876.3 2522.6 1877.9 2524.1 1880.9 2525.6 1884.6 2527.1 1888.2 2528.6 1891.6 2530.1 1895.3 2531.6 1898.8 2533.1 1901.7 2534.6 1904 2536.1 1906.1 2537.6 1907.9 2539.1 1909.3 2540.6 1910.3 2542.1 1911.2 2543.6 1912 2545.1 1912.7 2546.6 1913.2 2548.1 1913.5 2549.6 1913.8 2551.1 1914 2552.6 1914.4 2554.1 1915.1 2555.6 1916.2 2557.1 1917.7 2558.6 1919.7 2560.1 1923.8 2561.6 1930.3 2563.1 1937.7 2564.6 1946.1 2566.1 1955.7 2567.6 1964.6 2569.1 1973 2570.6 1980.7 2572.1 1985.7 2573.6 1988.2 2575.1 1989.9 2576.6 1989.8 2578.1 1986.1 2579.6 1982.7 2581.1 1981.3 2582.6 1980.2 2584.1 1979.7 2585.6 1981.2 2587.1 1984.6 2588.6 1988.7 2590.1 1993.9 2591.6 2000.5 2593.1 2007.3 2594.6 2012.7 2596.1 2016.9 2597.6 2020.7 2599.1 2023.8 2600.6 2026.2 2602.1 2027.9 2603.6 2029.3 2605.1 2030.5 2606.6 2031.6 2608.1 2032.6 2609.6 2033.7 2611.1 2034.7 2612.6 2035.7 2614.1 2036.6 2615.6 2037.5 2617.1 2038.5 2618.6 2039.7 2620.1 2040.9 2621.6 2042.3 2623.1 2043.9 2624.6 2045.7 2626.1 2048.4 2627.6 2051.9 2629.1 2055.3 2630.6 2057.7 2632.1 2059.3 2633.6 2060.7 2635.1 2061.8 2636.6 2062.1 2638.1 2060.8 2639.6 2057.6 2641.1 2053.7 2642.6 2050 2644.1 2046.1 2645.6 2042.1 2647.1 2039.6 2648.6 2038.4 2650.1 2037.5 2651.6 2036.9 2653.1 2036.7 2654.6 2037.7 2656.1 2039.7 2657.6 2041.2 2659.1 2042 2660.6 2042.7 2662.1 2043.2 2663.6 2042.9 2665.1 2040.1 2666.6 2036.4 2668.1 2031.9 2669.6 2026.5 2671.1 2021.4 2672.6 2015.8 2674.1 2010.6 2675.6 2008.1 2677.1 2007.7 2678.6 2007.4 2680.1 2007.2 2681.6 2007 2683.1 2006.7 2684.6 2006.3 2686.1 2005.9 2687.6 2005.1 2689.1 2001.3 2690.6 1994.6 2692.1 1988.3 2693.6 1982.5 2695.1 1976.6 2696.6 1971.4 2698.1 1967.5 2699.6 1964.8 2701.1 1962.8 2702.6 1960.8 2704.1 1958.5 2705.6 1955.9 2707.1 1953.2 2708.6 1950.3 2710.1 1947 2711.6 1943.4 2713.1 1939 2714.6 1933.8 2716.1 1928.2 2717.6 1921.8 2719.1 1914.9 2720.6 1908.7 2722.1 1902.8 2723.6 1897.1 2725.1 1892.4 2726.6 1889.6 2728.1 1888.1 2729.6 1886.9 2731.1 1885.9 2732.6 1885.3 2734.1 1884.8 2735.6 1884.5 2737.1 1884.2 2738.6 1883.8 2740.1 1883.1 2741.6 1880.5 2743.1 1876.1 2744.6 1871.3 2746.1 1865.9 2747.6 1859.6 2749.1 1853.1 2750.6 1847.2 2752.1 1841.2 2753.6 1835.3 2755.1 1830.1 2756.6 1826.5 2758.1 1823.7 2759.6 1821.6 2761.1 1820.9 2762.6 1821.6 2764.1 1822.9 2765.6 1824 2767.1 1825.1 2768.6 1826.1 2770.1 1826.8 2771.6 1826.5 2773.1 1824.5 2774.6 1821.6 2776.1 1819.1 2777.6 1816.8 2779.1 1814.6 2780.6 1812.6 2782.1 1811.1 2783.6 1810 2785.1 1809 2786.6 1808.1 2788.1 1807.6 2789.6 1807.4 2791.1 1807.7 2792.6 1808.3 2794.1 1809.1 2795.6 1810.9 2797.1 1813.4 2798.6 1815.1 2800.1 1816.2 2801.6 1817 2803.1 1817.3 2804.6 1815.9 2806.1 1813.2 2807.6 1809.8 2809.1 1804 2810.6 1796.9 2812.1 1791.8 2813.6 1788.1 2815.1 1785.2 2816.6 1784.4 2818.1 1786.7 2819.6 1790.8 2821.1 1794.5 2822.6 1798.2 2824.1 1802.1 2825.6 1805 2827.1 1805.9 2828.6 1805.6 2830.1 1805 2831.6 1804.3 2833.1 1802.7 2834.6 1800.7 2836.1 1799 2837.6 1798.4 2839.1 1799 2840.6 1800.1 2842.1 1801.6 2843.6 1803.3 2845.1 1805.7 2846.6 1809 2848.1 1812.7 2849.6 1817.4 2851.1 1822.8 2852.6 1827.8 2854.1 1832.7 2855.6 1837.4 2857.1 1841.8 2858.6 1845.6 2860.1 1849.5 2861.6 1852.7 2863.1 1853.9 2864.6 1854.1 2866.1 1854.2 2867.6 1854.3 2869.1 1854.5 2870.6 1855 2872.1 1855.9 2873.6 1857 2875.1 1858.8 2876.6 1861.7 2878.1 1865.2 2879.6 1869.2 2881.1 1874.9 2882.6 1882.2 2884.1 1889.8 2885.6 1896.3 2887.1 1902 2888.6 1907.2 2890.1 1911.1 2891.6 1913.9 2893.1 1916.1 2894.6 1918.1 2896.1 1920 2897.6 1921.8 2899.1 1923.4 2900.6 1924.9 2902.1 1926.8 2903.6 1929.1 2905.1 1932.4 2906.6 1936.7 2908.1 1941.2 2909.6 1946.2 2911.1 1951.5 2912.6 1957 2914.1 1962.3 2915.6 1967.5 2917.1 1972.6 2918.6 1977.2 2920.1 1982.2 2921.6 1986.6 2923.1 1988.9 2924.6 1989.6 2926.1 1990.1 2927.6 1990.3 2929.1 1990.3 2930.6 1990.3 2932.1 1990.3 2933.6 1990.3 2935.1 1991.3 2936.6 1993.6 2938.1 1996.8 2939.6 2001.9 2941.1 2011 2942.6 2019.6 2944.1 2026.9 2945.6 2033.6 2947.1 2038.7 2948.6 2042.5 2950.1 2045.7 2951.6 2048.3 2953.1 2050.5 2954.6 2052.2 2956.1 2053.5 2957.6 2054.7 2959.1 2056.1 2960.6 2058 2962.1 2060.9 2963.6 2064.3 2965.1 2067 2966.6 2069.1 2968.1 2071 2969.6 2072.5 2971.1 2073.4 2972.6 2074 2974.1 2074.4 2975.6 2074.8 2977.1 2075.1 2978.6 2075.1 2980.1 2074.7 2981.6 2073.7 2983.1 2072.3 2984.6 2070.9 2986.1 2069.6 2987.6 2068.1 2989.1 2066.4 2990.6 2064.8 2992.1 2063.3 2993.6 2062.1 2995.1 2061.3 2996.6 2060.7 2998.1 2060 2999.6 2059.1 3001.1 2057.5 3002.6 2055.4 3004.1 2052.7 3005.6 2049.8 3007.1 2045.5 3008.6 2040.5 3010.1 2036.2 3011.6 2032.9 3013.1 2030 3014.6 2027.2 3016.1 2024.3 3017.6 2021.5 3019.1 2018.7 3020.6 2015.7 3022.1 2012.2 3023.6 2007.6 3025.1 2002.3 3026.6 1997 3028.1 1991.6 3029.6 1986 3031.1 1980.7 3032.6 1976.1 3034.1 1972.1 3035.6 1968.4 3037.1 1964.9 3038.6 1961.5 3040.1 1958.3 3041.6 1955.4 3043.1 1952.6 3044.6 1949.2 3046.1 1945 3047.6 1940.1 3049.1 1934.9 3050.6 1929.8 3052.1 1925.1 3053.6 1920.8 3055.1 1916.7 3056.6 1912.6 3058.1 1908.5 3059.6 1904.1 3061.1 1899.4 3062.6 1894.6 3064.1 1889.6 3065.6 1884.8 3067.1 1880 3068.6 1875.3 3070.1 1870.5 3071.6 1866.1 3073.1 1862.2 3074.6 1859 3076.1 1856.2 3077.6 1853.5 3079.1 1850.6 3080.6 1847.2 3082.1 1843.4 3083.6 1839.2 3085.1 1834.7 3086.6 1830.3 3088.1 1826.1 3089.6 1822.1 3091.1 1818 3092.6 1814 3094.1 1810 3095.6 1806.1 3097.1 1802.2 3098.6 1797.7 3100.1 1793.1 3101.6 1789.5 3103.1 1787.8 3104.6 1787.1 3106.1 1786.6 3107.6 1786.5 3109.1 1787.5 3110.6 1789.4 3112.1 1791.3 3113.6 1792.6 3115.1 1793.6 3116.6 1794.3 3118.1 1794.5 3119.6 1793 3121.1 1790.1 3122.6 1786.9 3124.1 1784.5 3125.6 1782.4 3127.1 1780.3 3128.6 1778.8 3130.1 1778.4 3131.6 1779.2 3133.1 1780.6 3134.6 1782.3 3136.1 1785 3137.6 1788.3 3139.1 1791.2 3140.6 1792.6 3142.1 1793.4 3143.6 1794.1 3145.1 1794.4 3146.6 1794.5 3148.1 1794.1 3149.6 1793.3 3151.1 1792.7 3152.6 1792.5 3154.1 1793.9 3155.6 1796.7 3157.1 1800.1 3158.6 1803.8 3160.1 1808.2 3161.6 1813.5 3163.1 1819.3 3164.6 1825.3 3166.1 1831.8 3167.6 1838.8 3169.1 1845.8 3170.6 1852.4 3172.1 1859 3173.6 1865.5 3175.1 1871.3 3176.6 1875.8 3178.1 1879.2 3179.6 1882 3181.1 1884.7 3182.6 1887.6 3184.1 1890.4 3185.6 1893.1 3187.1 1896.2 3188.6 1899.8 3190.1 1904.1 3191.6 1909.3 3193.1 1915.5 3194.6 1923.8 3196.1 1933.5 3197.6 1943.2 3199.1 1953.8 3200.6 1964.2 3202.1 1972.7 3203.6 1979.9 3205.1 1986.3 3206.6 1991.6 3208.1 1995.7 3209.6 1998.6 3211.1 2001 3212.6 2003.4 3214.1 2006 3215.6 2008.8 3217.1 2011.6 3218.6 2014.7 3220.1 2018.2 3221.6 2022.5 3223.1 2027.2 3224.6 2032 3226.1 2037.6 3227.6 2042.9 3229.1 2046.5 3230.6 2049.4 3232.1 2051.8 3233.6 2053.5 3235.1 2054.2 3236.6 2054.5 3238.1 2054.7 3239.6 2054.8 3241.1 2054.9 3242.6 2055.1 3244.1 2055.5 3245.6 2056.4 3247.1 2057.9 3248.6 2059.5 3250.1 2061.2 3251.6 2063.1 3253.1 2065.1 3254.6 2067 3256.1 2068.6 3257.6 2070.2 3259.1 2071.8 3260.6 2073.2 3262.1 2074 3263.6 2074.2 3265.1 2073.6 3266.6 2072.5 3268.1 2070.9 3269.6 2069.2 3271.1 2066.1 3272.6 2062.1 3274.1 2057.7 3275.6 2053.6 3277.1 2049.2 3278.6 2045 3280.1 2042 3281.6 2039.9 3283.1 2038.1 3284.6 2036.5 3286.1 2034.7 3287.6 2032.8 3289.1 2030.8 3290.6 2029 3292.1 2027.3 3293.6 2026 3295.1 2024.7 3296.6 2023.2 3298.1 2020.9 3299.6 2016.5 3301.1 2010.8 3302.6 2005.1 3304.1 1999.1 3305.6 1992.8 3307.1 1986.7 3308.6 1981.2 3310.1 1976.3 3311.6 1971.7 3313.1 1967.1 3314.6 1962.4 3316.1 1957.1 3317.6 1951.5 3319.1 1945.6 3320.6 1939.3 3322.1 1932.7 3323.6 1925.6 3325.1 1918 3326.6 1910.2 3328.1 1902.4 3329.6 1894.3 3331.1 1886.1 3332.6 1878.5 3334.1 1870.8 3335.6 1863.8 3337.1 1858.3 3338.6 1854 3340.1 1850.2 3341.6 1847 3343.1 1844 3344.6 1841.5 3346.1 1839.4 3347.6 1837.3 3349.1 1834.9 3350.6 1831.8 3352.1 1827.9 3353.6 1823.3 3355.1 1818.4 3356.6 1813.1 3358.1 1806.9 3359.6 1800.2 3361.1 1794.1 3362.6 1789.6 3364.1 1786.1 3365.6 1783.1 3367.1 1780.3 3368.6 1777.7 3370.1 1775.1 3371.6 1772.7 3373.1 1770.5 3374.6 1768.3 3376.1 1765.8 3377.6 1762.9 3379.1 1759.3 3380.6 1755.3 3382.1 1751.4 3383.6 1747.7 3385.1 1743.6 3386.6 1739.7 3388.1 1737 3389.6 1736.4 3391.1 1737 3392.6 1738.1 3394.1 1739.3 3395.6 1740.4 3397.1 1741.9 3398.6 1743.3 3400.1 1743.5 3401.6 1742.7 3403.1 1741.7 3404.6 1741.5 3406.1 1742.1 3407.6 1743.3 3409.1 1744.9 3410.6 1746.8 3412.1 1750.4 3413.6 1755 3415.1 1759.7 3416.6 1765.1 3418.1 1770.9 3419.6 1776.2 3421.1 1780.3 3422.6 1783.6 3424.1 1786.5 3425.6 1789.2 3427.1 1792 3428.6 1794.6 3430.1 1797.1 3431.6 1799.7 3433.1 1802.5 3434.6 1805.7 3436.1 1809.4 3437.6 1813.5 3439.1 1817.9 3440.6 1822.8 3442.1 1828.6 3443.6 1834.9 3445.1 1841.2 3446.6 1847 3448.1 1852.4 3449.6 1857.5 3451.1 1862.7 3452.6 1868 3454.1 1873.9 3455.6 1880.5 3457.1 1888.3 3458.6 1896.7 3460.1 1905.5 3461.6 1914.3 3463.1 1923.5 3464.6 1932.9 3466.1 1941.9 3467.6 1949.8 3469.1 1957.4 3470.6 1964.4 3472.1 1970.6 3473.6 1975.6 3475.1 1979.3 3476.6 1982.6 3478.1 1986.1 3479.6 1990.8 3481.1 1996.8 3482.6 2003.6 3484.1 2011.1 3485.6 2019 3487.1 2027.9 3488.6 2037.2 3490.1 2046.4 3491.6 2056 3493.1 2065 3494.6 2072.6 3496.1 2079.4 3497.6 2085.5 3499.1 2090.9 3500.6 2095.5 3502.1 2099.2 3503.6 2102.4 3505.1 2105.6 3506.6 2109.2 3508.1 2113.7 3509.6 2119.3 3511.1 2125.6 3512.6 2132.1 3514.1 2138.2 3515.6 2144.6 3517.1 2151 3518.6 2156.8 3520.1 2161.6 3521.6 2166 3523.1 2170 3524.6 2173.2 3526.1 2175.5 3527.6 2177.5 3529.1 2179.3 3530.6 2180.7 3532.1 2181.7 3533.6 2182.4 3535.1 2182.9 3536.6 2183.3 3538.1 2183.6 3539.6 2183.5 3541.1 2182.2 3542.6 2179.9 3544.1 2177.5 3545.6 2175.1 3547.1 2172.5 3548.6 2169.9 3550.1 2167.8 3551.6 2166.1 3553.1 2164.5 3554.6 2163.2" stroke="#ff0000" stroke-width="6.25" fill="none" stroke-linejoin="round" stroke-linecap="square"/>
<rect x="302.6" y="1631.4" width="3250" height="581.1" fill="none" stroke="#000" stroke-width="3.333"/>
<path d="M302.6 2212.5v14.58M872.6 2212.5v14.58M1442.6 2212.5v14.58M2012.6 2212.5v14.58M2582.6 2212.5v14.58M3152.6 2212.5v14.58M302.6 1667.4h-14.58M302.6 1794.6h-14.58M302.6 1921.8h-14.58M302.6 2049h-14.58M302.6 2176.2h-14.58" stroke="#000" stroke-width="3.333" fill="none"/>
<g font-family="DejaVu Sans, sans-serif" font-size="41.667" fill="#000">
<text x="302.6" y="2272.5" text-anchor="middle">0</text>
<text x="872.6" y="2272.5" text-anchor="middle">10</text>
<text x="1442.6" y="2272.5" text-anchor="middle">20</text>
<text x="2012.6" y="2272.5" text-anchor="middle">30</text>
<text x="2582.6" y="2272.5" text-anchor="middle">40</text>
<text x="3152.6" y="2272.5" text-anchor="middle">50</text>
<text x="272.9" y="1682.6" text-anchor="end">0.002</text>
<text x="272.9" y="1809.8" text-anchor="end">0.001</text>
<text x="272.9" y="1937" text-anchor="end">0.000</text>
<text x="272.9" y="2064.2" text-anchor="end">−0.001</text>
<text x="272.9" y="2191.4" text-anchor="end">−0.002</text>
</g>
<g font-family="DejaVu Sans, sans-serif" font-size="58.333" fill="#000">
<text x="1927.6" y="2343.1" text-anchor="middle" textLength="239.2" lengthAdjust="spacing">Time (s)</text>
<text transform="translate(89.4 1922.9) rotate(-90)" text-anchor="middle" textLength="554.1" lengthAdjust="spacing">Displacement (cm)</text>
</g>
</svg>
</body></html>
